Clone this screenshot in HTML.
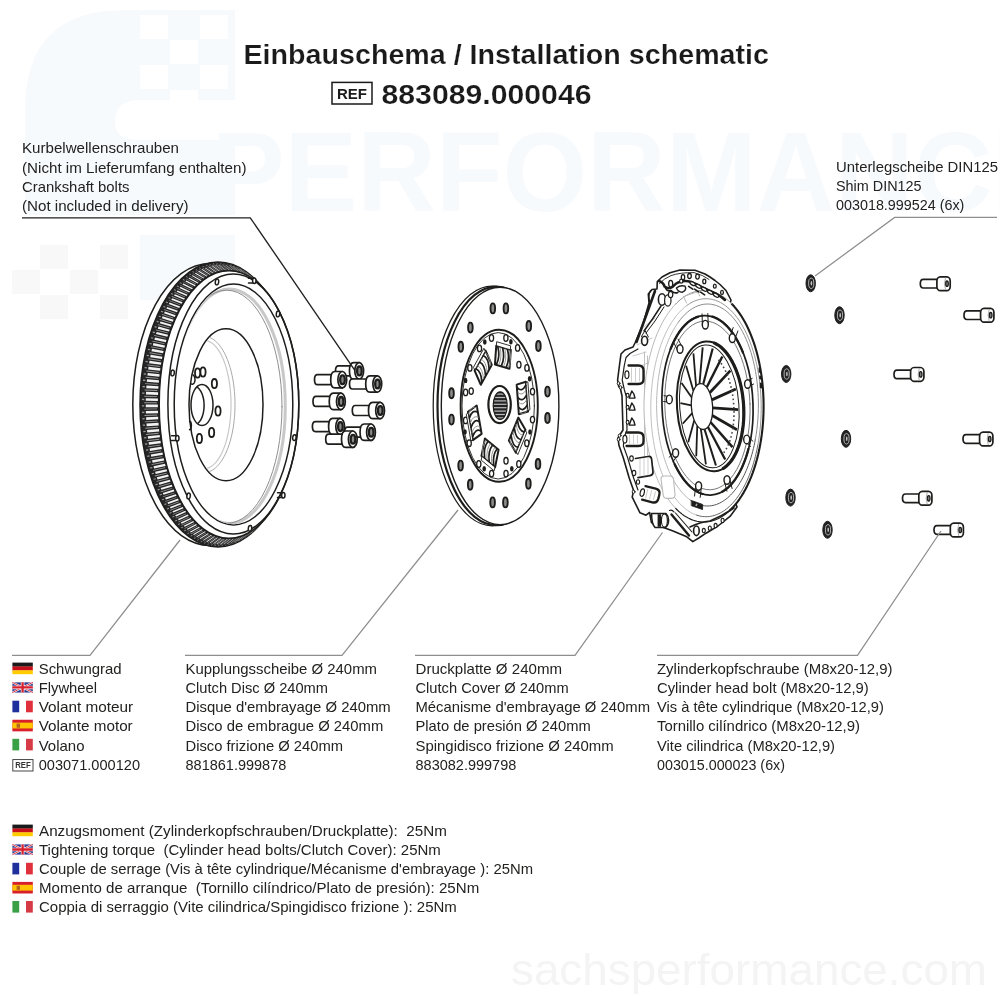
<!DOCTYPE html>
<html><head><meta charset="utf-8"><title>Einbauschema</title>
<style>
html,body{margin:0;padding:0;background:#fff;}
body{width:1000px;height:1000px;overflow:hidden;font-family:"Liberation Sans",sans-serif;}
svg{display:block;position:absolute;left:0;top:0;transform:translateZ(0);will-change:transform;filter:blur(0.4px);}
text{font-family:"Liberation Sans",sans-serif;}
</style></head><body>
<svg width="1000" height="1000" viewBox="0 0 1000 1000">
<g id="wm" opacity="0.999"><path d="M25,215V110Q25,10 125,10H235V100H140Q115,100 115,122Q115,140 140,140H235V215Z" fill="#f7fafd"/><rect x="140" y="15" width="28" height="24" fill="#fff"/><rect x="200" y="15" width="28" height="24" fill="#fff"/><rect x="170" y="40" width="28" height="24" fill="#fff"/><rect x="140" y="65" width="28" height="24" fill="#fff"/><rect x="200" y="65" width="28" height="24" fill="#fff"/><rect x="170" y="90" width="28" height="24" fill="#fff"/><path d="M140,235H235V300H140Z" fill="#f7fafd"/><rect x="12" y="270" width="28" height="24" fill="#f8f8f9"/><rect x="70" y="270" width="28" height="24" fill="#f8f8f9"/><rect x="40" y="245" width="28" height="24" fill="#f8f8f9"/><rect x="100" y="245" width="28" height="24" fill="#f8f8f9"/><rect x="40" y="295" width="28" height="24" fill="#f8f8f9"/><rect x="100" y="295" width="28" height="24" fill="#f8f8f9"/><text x="212" y="211" font-size="114" font-weight="bold" fill="#f7fafd" textLength="853" lengthAdjust="spacingAndGlyphs">PERFORMANCE</text><text x="511" y="985" font-size="44" fill="#f4f4f5" textLength="476" lengthAdjust="spacingAndGlyphs">sachsperformance.com</text></g>
<g id="texts" opacity="0.999"><text x="243.5" y="64.2" font-size="27.2" font-weight="bold" fill="#1a1a1a" stroke="#fff" stroke-width="0.2" textLength="525.5" lengthAdjust="spacingAndGlyphs">Einbauschema / Installation schematic</text><rect x="332" y="82.4" width="40" height="21.6" fill="#fff" stroke="#1a1a1a" stroke-width="1.5"/><text x="337.00" y="98.78" font-size="15.5" font-weight="bold" fill="#1a1a1a" textLength="30" lengthAdjust="spacingAndGlyphs">REF</text><text x="381.5" y="103.6" font-size="27.2" font-weight="bold" fill="#1a1a1a" stroke="#fff" stroke-width="0.2" textLength="210.0" lengthAdjust="spacingAndGlyphs">883089.000046</text><text x="22" y="153.4" font-size="14.6" font-weight="normal" fill="#222221" textLength="157.0" lengthAdjust="spacingAndGlyphs">Kurbelwellenschrauben</text><text x="22" y="172.55" font-size="14.6" font-weight="normal" fill="#222221" textLength="224.5" lengthAdjust="spacingAndGlyphs">(Nicht im Lieferumfang enthalten)</text><text x="22" y="191.7" font-size="14.6" font-weight="normal" fill="#222221" textLength="107.5" lengthAdjust="spacingAndGlyphs">Crankshaft bolts</text><text x="22" y="210.85" font-size="14.6" font-weight="normal" fill="#222221" textLength="166.5" lengthAdjust="spacingAndGlyphs">(Not included in delivery)</text><text x="836" y="171.6" font-size="14.6" font-weight="normal" fill="#222221" textLength="162.0" lengthAdjust="spacingAndGlyphs">Unterlegscheibe DIN125</text><text x="836" y="190.79999999999998" font-size="14.6" font-weight="normal" fill="#222221" textLength="85.6" lengthAdjust="spacingAndGlyphs">Shim DIN125</text><text x="836" y="210.0" font-size="14.6" font-weight="normal" fill="#222221" textLength="128.4" lengthAdjust="spacingAndGlyphs">003018.999524 (6x)</text><text x="38.7" y="674.3" font-size="14.6" font-weight="normal" fill="#222221" textLength="83.0" lengthAdjust="spacingAndGlyphs">Schwungrad</text><text x="38.7" y="693.3499999999999" font-size="14.6" font-weight="normal" fill="#222221" textLength="58.3" lengthAdjust="spacingAndGlyphs">Flywheel</text><text x="38.7" y="712.4" font-size="14.6" font-weight="normal" fill="#222221" textLength="94.5" lengthAdjust="spacingAndGlyphs">Volant moteur</text><text x="38.7" y="731.4499999999999" font-size="14.6" font-weight="normal" fill="#222221" textLength="94.0" lengthAdjust="spacingAndGlyphs">Volante motor</text><text x="38.7" y="750.5" font-size="14.6" font-weight="normal" fill="#222221" textLength="45.8" lengthAdjust="spacingAndGlyphs">Volano</text><text x="38.7" y="769.55" font-size="14.6" font-weight="normal" fill="#222221" textLength="101.3" lengthAdjust="spacingAndGlyphs">003071.000120</text><text x="185.5" y="674.3" font-size="14.6" font-weight="normal" fill="#222221" textLength="191.5" lengthAdjust="spacingAndGlyphs">Kupplungsscheibe Ø 240mm</text><text x="185.5" y="693.3499999999999" font-size="14.6" font-weight="normal" fill="#222221" textLength="142.5" lengthAdjust="spacingAndGlyphs">Clutch Disc Ø 240mm</text><text x="185.5" y="712.4" font-size="14.6" font-weight="normal" fill="#222221" textLength="205.2" lengthAdjust="spacingAndGlyphs">Disque d'embrayage Ø 240mm</text><text x="185.5" y="731.4499999999999" font-size="14.6" font-weight="normal" fill="#222221" textLength="197.8" lengthAdjust="spacingAndGlyphs">Disco de embrague Ø 240mm</text><text x="185.5" y="750.5" font-size="14.6" font-weight="normal" fill="#222221" textLength="157.5" lengthAdjust="spacingAndGlyphs">Disco frizione Ø 240mm</text><text x="185.5" y="769.55" font-size="14.6" font-weight="normal" fill="#222221" textLength="100.8" lengthAdjust="spacingAndGlyphs">881861.999878</text><text x="415.5" y="674.3" font-size="14.6" font-weight="normal" fill="#222221" textLength="146.5" lengthAdjust="spacingAndGlyphs">Druckplatte Ø 240mm</text><text x="415.5" y="693.3499999999999" font-size="14.6" font-weight="normal" fill="#222221" textLength="153.2" lengthAdjust="spacingAndGlyphs">Clutch Cover Ø 240mm</text><text x="415.5" y="712.4" font-size="14.6" font-weight="normal" fill="#222221" textLength="234.5" lengthAdjust="spacingAndGlyphs">Mécanisme d'embrayage Ø 240mm</text><text x="415.5" y="731.4499999999999" font-size="14.6" font-weight="normal" fill="#222221" textLength="175.2" lengthAdjust="spacingAndGlyphs">Plato de presión Ø 240mm</text><text x="415.5" y="750.5" font-size="14.6" font-weight="normal" fill="#222221" textLength="198.2" lengthAdjust="spacingAndGlyphs">Spingidisco frizione Ø 240mm</text><text x="415.5" y="769.55" font-size="14.6" font-weight="normal" fill="#222221" textLength="100.8" lengthAdjust="spacingAndGlyphs">883082.999798</text><text x="657" y="674.3" font-size="14.6" font-weight="normal" fill="#222221" textLength="235.5" lengthAdjust="spacingAndGlyphs">Zylinderkopfschraube (M8x20-12,9)</text><text x="657" y="693.3499999999999" font-size="14.6" font-weight="normal" fill="#222221" textLength="211.8" lengthAdjust="spacingAndGlyphs">Cylinder head bolt (M8x20-12,9)</text><text x="657" y="712.4" font-size="14.6" font-weight="normal" fill="#222221" textLength="226.8" lengthAdjust="spacingAndGlyphs">Vis à tête cylindrique (M8x20-12,9)</text><text x="657" y="731.4499999999999" font-size="14.6" font-weight="normal" fill="#222221" textLength="203.0" lengthAdjust="spacingAndGlyphs">Tornillo cilíndrico (M8x20-12,9)</text><text x="657" y="750.5" font-size="14.6" font-weight="normal" fill="#222221" textLength="178.0" lengthAdjust="spacingAndGlyphs">Vite cilindrica (M8x20-12,9)</text><text x="657" y="769.55" font-size="14.6" font-weight="normal" fill="#222221" textLength="128.0" lengthAdjust="spacingAndGlyphs">003015.000023 (6x)</text><rect x="12.4" y="662.6" width="20.4" height="4.07" fill="#1a1a1a"/><rect x="12.4" y="666.47" width="20.4" height="4.07" fill="#c8101c"/><rect x="12.4" y="670.33" width="20.4" height="3.87" fill="#ffcc00"/><g><rect x="12.4" y="682.35" width="20.4" height="10.2" fill="#2a3b8f"/><path d="M12.4,682.35L32.8,692.5500000000001M32.8,682.35L12.4,692.5500000000001" stroke="#fff" stroke-width="2.0"/><path d="M12.4,682.35L32.8,692.5500000000001M32.8,682.35L12.4,692.5500000000001" stroke="#d8202f" stroke-width="0.9"/><path d="M22.6,682.35V692.5500000000001M12.4,687.45H32.8" stroke="#fff" stroke-width="3.6"/><path d="M22.6,682.35V692.5500000000001M12.4,687.45H32.8" stroke="#d8202f" stroke-width="2.3"/></g><rect x="12.4" y="700.7" width="6.80" height="11.6" fill="#1f2f9c"/><rect x="26.00" y="700.7" width="6.80" height="11.6" fill="#e0303c"/><rect x="12.4" y="719.75" width="20.4" height="11.6" fill="#d8202a"/><rect x="12.4" y="722.65" width="20.4" height="5.80" fill="#ffc400"/><rect x="16.6" y="723.58" width="3.4" height="4.18" fill="#b5651d"/><rect x="12.4" y="738.8000000000001" width="6.80" height="11.6" fill="#3aa045"/><rect x="26.00" y="738.8000000000001" width="6.80" height="11.6" fill="#d63a44"/><rect x="12.8" y="759.6" width="20.2" height="11.4" fill="#fff" stroke="#333" stroke-width="0.9"/><text x="15.15" y="768.40" font-size="8.6" font-weight="bold" fill="#333" textLength="15.5" lengthAdjust="spacingAndGlyphs">REF</text><text x="39" y="836.00" font-size="14.6" fill="#222221" textLength="407.8" lengthAdjust="spacingAndGlyphs" xml:space="preserve">Anzugsmoment (Zylinderkopfschrauben/Druckplatte):  25Nm</text><rect x="12.4" y="824.6" width="20.4" height="4.07" fill="#1a1a1a"/><rect x="12.4" y="828.47" width="20.4" height="4.07" fill="#c8101c"/><rect x="12.4" y="832.33" width="20.4" height="3.87" fill="#ffcc00"/><text x="39" y="855.10" font-size="14.6" fill="#222221" textLength="401.8" lengthAdjust="spacingAndGlyphs" xml:space="preserve">Tightening torque  (Cylinder head bolts/Clutch Cover): 25Nm</text><g><rect x="12.4" y="844.4000000000001" width="20.4" height="10.2" fill="#2a3b8f"/><path d="M12.4,844.4000000000001L32.8,854.6000000000001M32.8,844.4000000000001L12.4,854.6000000000001" stroke="#fff" stroke-width="2.0"/><path d="M12.4,844.4000000000001L32.8,854.6000000000001M32.8,844.4000000000001L12.4,854.6000000000001" stroke="#d8202f" stroke-width="0.9"/><path d="M22.6,844.4000000000001V854.6000000000001M12.4,849.5000000000001H32.8" stroke="#fff" stroke-width="3.6"/><path d="M22.6,844.4000000000001V854.6000000000001M12.4,849.5000000000001H32.8" stroke="#d8202f" stroke-width="2.3"/></g><text x="39" y="874.20" font-size="14.6" fill="#222221" textLength="494.0" lengthAdjust="spacingAndGlyphs" xml:space="preserve">Couple de serrage (Vis à tête cylindrique/Mécanisme d'embrayage ): 25Nm</text><rect x="12.4" y="862.8000000000001" width="6.80" height="11.6" fill="#1f2f9c"/><rect x="26.00" y="862.8000000000001" width="6.80" height="11.6" fill="#e0303c"/><text x="39" y="893.30" font-size="14.6" fill="#222221" textLength="440.2" lengthAdjust="spacingAndGlyphs" xml:space="preserve">Momento de arranque  (Tornillo cilíndrico/Plato de presión): 25Nm</text><rect x="12.4" y="881.9" width="20.4" height="11.6" fill="#d8202a"/><rect x="12.4" y="884.80" width="20.4" height="5.80" fill="#ffc400"/><rect x="16.6" y="885.73" width="3.4" height="4.18" fill="#b5651d"/><text x="39" y="912.40" font-size="14.6" fill="#222221" textLength="417.8" lengthAdjust="spacingAndGlyphs" xml:space="preserve">Coppia di serraggio (Vite cilindrica/Spingidisco frizione ): 25Nm</text><rect x="12.4" y="901.0" width="6.80" height="11.6" fill="#3aa045"/><rect x="26.00" y="901.0" width="6.80" height="11.6" fill="#d63a44"/></g>
<g id="flywheel" stroke-linecap="round" stroke-linejoin="round"><ellipse cx="209.8" cy="404.5" rx="77" ry="141" fill="#fff" stroke="#1d1d1b" stroke-width="1.5"/><ellipse cx="218" cy="404.5" rx="78" ry="142.5" fill="#262626" stroke="#1d1d1b" stroke-width="1.5"/><path d="M259.57,283.89L259.15,283.43L263.66,288.37L264.05,288.81ZM260.34,284.78L259.74,284.10L260.54,284.98L261.13,285.66ZM256.55,280.72L256.12,280.30L260.85,285.37L261.24,285.78ZM257.33,281.46L256.71,280.83L257.55,281.74L258.16,282.37ZM253.46,277.82L253.02,277.43L257.97,282.62L258.37,282.99ZM254.23,278.40L253.61,277.81L254.49,278.75L255.11,279.33ZM250.30,275.17L249.85,274.83L255.02,280.12L255.44,280.46ZM251.07,275.59L250.43,275.06L251.35,276.02L251.98,276.54ZM247.08,272.80L246.62,272.49L252.02,277.88L252.45,278.18ZM247.84,273.06L247.19,272.58L248.15,273.55L248.79,274.02ZM243.80,270.70L243.34,270.42L248.97,275.90L249.40,276.16ZM244.55,270.79L243.88,270.37L244.89,271.36L245.55,271.78ZM240.48,268.87L240.01,268.64L245.88,274.19L246.31,274.41ZM241.21,268.80L240.53,268.44L241.58,269.44L242.24,269.80ZM237.11,267.33L236.64,267.13L242.74,272.75L243.19,272.93ZM237.82,267.10L237.14,266.79L238.23,267.81L238.90,268.11ZM233.71,266.07L233.23,265.92L239.58,271.58L240.03,271.72ZM234.39,265.68L233.70,265.43L234.84,266.45L235.52,266.70ZM230.28,265.10L229.80,264.98L236.39,270.68L236.84,270.79ZM230.93,264.54L230.24,264.35L231.41,265.39L232.10,265.58ZM226.83,264.41L226.35,264.34L233.19,270.06L233.64,270.13ZM227.45,263.70L226.75,263.57L227.97,264.61L228.66,264.74ZM223.37,264.02L222.88,263.99L229.97,269.73L230.42,269.76ZM223.95,263.15L223.25,263.07L224.51,264.12L225.21,264.19ZM219.90,263.92L219.42,263.93L226.75,269.67L227.20,269.66ZM220.44,262.89L219.73,262.87L221.05,263.92L221.74,263.94ZM216.43,264.11L215.95,264.16L223.53,269.89L223.98,269.84ZM216.92,262.93L216.22,262.97L217.58,264.01L218.27,263.97ZM212.97,264.59L212.49,264.68L220.31,270.39L220.76,270.30ZM213.41,263.25L212.71,263.36L214.11,264.40L214.81,264.30ZM209.53,265.36L209.05,265.49L217.12,271.17L217.56,271.04ZM209.92,263.88L209.22,264.04L210.66,265.07L211.35,264.91ZM206.11,266.42L205.63,266.59L213.94,272.22L214.39,272.06ZM206.44,264.79L205.75,265.01L207.24,266.03L207.92,265.82ZM202.72,267.76L202.25,267.97L210.80,273.55L211.24,273.35ZM202.99,265.99L202.30,266.27L203.83,267.29L204.51,267.01ZM199.36,269.39L198.90,269.64L207.69,275.15L208.12,274.91ZM199.57,267.48L198.89,267.81L200.47,268.82L201.14,268.49ZM196.05,271.30L195.59,271.59L204.62,277.02L205.04,276.74ZM196.19,269.25L195.52,269.64L197.14,270.64L197.80,270.25ZM192.79,273.48L192.34,273.81L201.59,279.15L202.01,278.83ZM192.86,271.31L192.20,271.75L193.86,272.73L194.51,272.29ZM189.59,275.94L189.14,276.30L198.63,281.54L199.04,281.19ZM189.58,273.64L188.93,274.14L190.64,275.10L191.28,274.60ZM186.45,278.66L186.01,279.06L195.72,284.19L196.12,283.80ZM186.37,276.24L185.73,276.79L187.48,277.73L188.10,277.18ZM183.38,281.64L182.96,282.08L192.88,287.08L193.27,286.66ZM183.22,279.11L182.60,279.71L184.38,280.63L185.00,280.03ZM180.39,284.88L179.97,285.35L190.11,290.22L190.49,289.77ZM180.15,282.23L179.54,282.89L181.37,283.78L181.96,283.13ZM177.48,288.37L177.08,288.87L187.42,293.60L187.79,293.11ZM177.15,285.61L176.57,286.32L178.43,287.19L179.01,286.49ZM174.66,292.09L174.27,292.63L184.81,297.20L185.17,296.68ZM174.25,289.24L173.68,289.99L175.58,290.84L176.14,290.09ZM171.93,296.05L171.56,296.63L182.29,301.03L182.64,300.48ZM171.44,293.10L170.89,293.91L172.82,294.72L173.36,293.93ZM169.31,300.24L168.95,300.84L179.86,305.07L180.20,304.50ZM168.72,297.20L168.19,298.05L170.16,298.83L170.69,297.99ZM166.79,304.64L166.44,305.27L177.54,309.32L177.86,308.72ZM166.11,301.52L165.61,302.41L167.61,303.16L168.11,302.28ZM164.38,309.24L164.05,309.91L175.32,313.77L175.62,313.14ZM163.61,306.05L163.13,306.98L165.16,307.70L165.64,306.78ZM162.09,314.05L161.78,314.74L173.20,318.40L173.49,317.74ZM161.23,310.79L160.77,311.76L162.83,312.44L163.29,311.48ZM159.92,319.04L159.62,319.76L171.20,323.22L171.47,322.53ZM158.97,315.72L158.53,316.73L160.62,317.37L161.05,316.37ZM157.87,324.21L157.60,324.95L169.32,328.20L169.57,327.49ZM156.83,320.83L156.41,321.88L158.53,322.49L158.94,321.45ZM155.96,329.55L155.70,330.31L167.56,333.34L167.80,332.61ZM154.82,326.12L154.43,327.20L156.57,327.77L156.96,326.70ZM154.17,335.04L153.94,335.82L165.92,338.62L166.14,337.88ZM152.94,331.57L152.58,332.68L154.75,333.21L155.10,332.11ZM152.53,340.67L152.31,341.47L164.41,344.05L164.61,343.28ZM151.20,337.17L150.87,338.31L153.06,338.80L153.38,337.67ZM151.03,346.44L150.83,347.26L163.03,349.60L163.21,348.81ZM149.60,342.91L149.30,344.08L151.51,344.52L151.80,343.37ZM149.66,352.33L149.49,353.16L161.78,355.26L161.95,354.46ZM148.14,348.78L147.87,349.97L150.10,350.37L150.37,349.19ZM148.45,358.32L148.29,359.17L160.68,361.02L160.82,360.21ZM146.83,354.77L146.59,355.98L148.84,356.33L149.08,355.13ZM147.39,364.42L147.25,365.28L159.71,366.88L159.83,366.05ZM145.68,360.85L145.46,362.08L147.72,362.40L147.93,361.18ZM146.47,370.59L146.36,371.46L158.88,372.81L158.99,371.98ZM144.67,367.03L144.49,368.28L146.76,368.54L146.94,367.31ZM145.71,376.84L145.62,377.71L158.19,378.81L158.28,377.97ZM143.82,373.29L143.67,374.55L145.95,374.77L146.10,373.52ZM145.11,383.14L145.04,384.02L157.65,384.86L157.72,384.01ZM143.12,379.61L143.00,380.88L145.29,381.05L145.41,379.79ZM144.66,389.48L144.61,390.38L157.25,390.95L157.30,390.10ZM142.58,385.98L142.49,387.26L144.79,387.39L144.88,386.12ZM144.37,395.86L144.34,396.76L157.00,397.07L157.03,396.21ZM142.20,392.39L142.15,393.67L144.45,393.75L144.50,392.48ZM144.23,402.26L144.23,403.15L156.90,403.21L156.91,402.35ZM141.98,398.82L141.96,400.11L144.26,400.15L144.29,398.87ZM144.26,408.66L144.27,409.55L156.94,409.35L156.93,408.49ZM141.92,405.27L141.93,406.56L144.23,406.55L144.23,405.27ZM144.44,415.05L144.48,415.94L157.13,415.48L157.10,414.62ZM142.02,411.72L142.06,413.00L144.36,412.94L144.32,411.66ZM144.78,421.42L144.84,422.31L157.47,421.58L157.41,420.73ZM142.28,418.15L142.35,419.43L144.65,419.32L144.58,418.05ZM145.27,427.75L145.36,428.64L157.95,427.65L157.87,426.80ZM142.70,424.55L142.80,425.83L145.09,425.67L144.99,424.40ZM145.93,434.04L146.03,434.92L158.57,433.67L158.48,432.83ZM143.27,430.91L143.41,432.18L145.69,431.97L145.56,430.72ZM146.73,440.27L146.86,441.13L159.34,439.64L159.22,438.80ZM144.01,437.22L144.17,438.47L146.45,438.22L146.28,436.97ZM147.69,446.42L147.84,447.27L160.25,445.52L160.12,444.70ZM144.90,443.45L145.09,444.69L147.36,444.40L147.16,443.17ZM148.80,452.48L148.97,453.32L161.30,451.33L161.15,450.52ZM145.94,449.61L146.17,450.83L148.42,450.49L148.19,449.28ZM150.06,458.45L150.24,459.27L162.49,457.03L162.31,456.24ZM147.13,455.67L147.39,456.88L149.63,456.49L149.37,455.30ZM151.46,464.30L151.67,465.11L163.81,462.63L163.62,461.86ZM148.48,461.63L148.76,462.81L150.98,462.38L150.70,461.21ZM153.01,470.03L153.23,470.82L165.27,468.11L165.06,467.35ZM149.97,467.47L150.28,468.62L152.48,468.15L152.17,467.01ZM154.69,475.62L154.94,476.39L166.85,473.46L166.62,472.72ZM151.60,473.18L151.95,474.31L154.12,473.79L153.78,472.67ZM156.52,481.07L156.78,481.82L168.56,478.66L168.31,477.94ZM153.38,478.75L153.75,479.84L155.90,479.29L155.53,478.20ZM158.47,486.35L158.76,487.08L170.39,483.71L170.13,483.01ZM155.28,484.16L155.68,485.22L157.81,484.63L157.42,483.57ZM160.55,491.47L160.86,492.17L172.35,488.59L172.07,487.92ZM157.33,489.41L157.75,490.44L159.85,489.80L159.43,488.78ZM162.76,496.41L163.08,497.08L174.41,493.30L174.12,492.65ZM159.50,494.48L159.95,495.47L162.02,494.80L161.58,493.81ZM165.09,501.16L165.42,501.80L176.59,497.83L176.28,497.21ZM161.79,499.36L162.26,500.32L164.31,499.61L163.84,498.66ZM167.53,505.70L167.88,506.32L178.87,502.16L178.55,501.57ZM164.20,504.05L164.70,504.96L166.71,504.22L166.22,503.32ZM170.08,510.04L170.45,510.63L181.26,506.29L180.92,505.73ZM166.73,508.53L167.25,509.40L169.23,508.63L168.72,507.77ZM172.74,514.16L173.12,514.71L183.74,510.21L183.38,509.68ZM169.36,512.80L169.90,513.63L171.85,512.82L171.32,512.00ZM175.49,518.05L175.89,518.57L186.31,513.91L185.94,513.41ZM172.10,516.84L172.66,517.62L174.57,516.79L174.02,516.01ZM178.34,521.70L178.75,522.19L188.97,517.39L188.59,516.92ZM174.94,520.65L175.51,521.38L177.39,520.52L176.82,519.79ZM181.27,525.11L181.69,525.57L191.70,520.63L191.31,520.19ZM177.86,524.22L178.46,524.90L180.30,524.02L179.71,523.34ZM184.29,528.28L184.72,528.70L194.51,523.63L194.12,523.22ZM180.87,527.54L181.49,528.17L183.29,527.26L182.68,526.63ZM187.38,531.18L187.82,531.57L197.39,526.38L196.99,526.01ZM183.97,530.60L184.59,531.19L186.35,530.25L185.73,529.67ZM190.54,533.83L190.99,534.17L200.34,528.88L199.92,528.54ZM187.13,533.41L187.77,533.94L189.49,532.98L188.86,532.46ZM193.76,536.20L194.22,536.51L203.34,531.12L202.91,530.82ZM190.36,535.94L191.01,536.42L192.69,535.45L192.05,534.98ZM197.04,538.30L197.50,538.58L206.39,533.10L205.96,532.84ZM193.65,538.21L194.32,538.63L195.95,537.64L195.29,537.22ZM200.36,540.13L200.83,540.36L209.48,534.81L209.05,534.59ZM196.99,540.20L197.67,540.56L199.26,539.56L198.60,539.20ZM203.73,541.67L204.20,541.87L212.62,536.25L212.17,536.07ZM200.38,541.90L201.06,542.21L202.61,541.19L201.94,540.89ZM207.13,542.93L207.61,543.08L215.78,537.42L215.33,537.28ZM203.81,543.32L204.50,543.57L206.00,542.55L205.32,542.30ZM210.56,543.90L211.04,544.02L218.97,538.32L218.52,538.21ZM207.27,544.46L207.96,544.65L209.43,543.61L208.74,543.42ZM214.01,544.59L214.49,544.66L222.17,538.94L221.72,538.87ZM210.75,545.30L211.45,545.43L212.87,544.39L212.18,544.26ZM217.47,544.98L217.96,545.01L225.39,539.27L224.94,539.24ZM214.25,545.85L214.95,545.93L216.33,544.88L215.63,544.81ZM220.94,545.08L221.42,545.07L228.61,539.33L228.16,539.34ZM217.76,546.11L218.47,546.13L219.79,545.08L219.10,545.06ZM224.41,544.89L224.89,544.84L231.83,539.11L231.38,539.16ZM221.28,546.07L221.98,546.03L223.26,544.99L222.57,545.03ZM227.87,544.41L228.35,544.32L235.05,538.61L234.60,538.70ZM224.79,545.75L225.49,545.64L226.73,544.60L226.03,544.70ZM231.31,543.64L231.79,543.51L238.24,537.83L237.80,537.96ZM228.28,545.12L228.98,544.96L230.18,543.93L229.49,544.09ZM234.73,542.58L235.21,542.41L241.42,536.78L240.97,536.94ZM231.76,544.21L232.45,543.99L233.60,542.97L232.92,543.18ZM238.12,541.24L238.59,541.03L244.56,535.45L244.12,535.65ZM235.21,543.01L235.90,542.73L237.01,541.71L236.33,541.99ZM241.48,539.61L241.94,539.36L247.67,533.85L247.24,534.09ZM238.63,541.52L239.31,541.19L240.37,540.18L239.70,540.51ZM244.79,537.70L245.25,537.41L250.74,531.98L250.32,532.26ZM242.01,539.75L242.68,539.36L243.70,538.36L243.04,538.75ZM248.05,535.52L248.50,535.19L253.77,529.85L253.35,530.17ZM245.34,537.69L246.00,537.25L246.98,536.27L246.33,536.71ZM251.25,533.06L251.70,532.70L256.73,527.46L256.32,527.81ZM248.62,535.36L249.27,534.86L250.20,533.90L249.56,534.40ZM254.39,530.34L254.83,529.94L259.64,524.81L259.24,525.20ZM251.83,532.76L252.47,532.21L253.36,531.27L252.74,531.82ZM257.46,527.36L257.88,526.92L262.48,521.92L262.09,522.34ZM254.98,529.89L255.60,529.29L256.46,528.37L255.84,528.97ZM260.45,524.12L260.87,523.65L265.25,518.78L264.87,519.23ZM258.05,526.77L258.66,526.11L259.47,525.22L258.88,525.87ZM263.36,520.63L263.76,520.13L267.94,515.40L267.57,515.89ZM261.05,523.39L261.63,522.68L262.41,521.81L261.83,522.51Z" fill="#9c9c9c" stroke="none"/><path d="M261.84,286.47L260.89,285.37L265.12,290.03L266.00,291.09ZM258.89,283.16L257.94,282.16L262.36,286.96L263.25,287.91ZM255.86,280.11L254.90,279.21L259.54,284.12L260.42,284.98ZM252.75,277.31L251.80,276.52L256.65,281.54L257.53,282.29ZM249.58,274.78L248.64,274.09L253.70,279.20L254.57,279.86ZM246.35,272.52L245.42,271.93L250.70,277.13L251.56,277.69ZM243.06,270.54L242.15,270.04L247.65,275.31L248.50,275.79ZM239.73,268.84L238.84,268.43L244.57,273.76L245.40,274.15ZM236.36,267.42L235.49,267.10L241.45,272.48L242.26,272.79ZM232.97,266.29L232.12,266.05L238.31,271.48L239.10,271.70ZM229.54,265.44L228.72,265.29L235.14,270.74L235.91,270.89ZM226.10,264.89L225.30,264.81L231.96,270.28L232.70,270.36ZM222.65,264.63L221.88,264.61L228.77,270.09L229.48,270.11ZM219.21,264.66L218.44,264.71L225.56,270.19L226.29,270.14ZM215.80,264.98L214.99,265.10L222.35,270.56L223.10,270.45ZM212.39,265.59L211.55,265.78L219.15,271.21L219.93,271.03ZM209.00,266.48L208.14,266.75L215.97,272.15L216.77,271.89ZM205.63,267.65L204.75,268.01L212.81,273.36L213.64,273.01ZM202.30,269.11L201.40,269.55L209.69,274.84L210.53,274.41ZM199.01,270.84L198.09,271.38L206.61,276.59L207.46,276.08ZM195.76,272.85L194.83,273.48L203.57,278.62L204.44,278.01ZM192.56,275.13L191.62,275.86L200.58,280.90L201.46,280.20ZM189.43,277.67L188.48,278.51L197.65,283.44L198.54,282.64ZM186.36,280.48L185.40,281.42L194.79,286.24L195.68,285.34ZM183.36,283.54L182.40,284.58L191.99,289.28L192.88,288.28ZM180.43,286.85L179.48,288.00L189.27,292.56L190.16,291.46ZM177.59,290.40L176.65,291.66L186.64,296.08L187.51,294.87ZM174.84,294.19L173.92,295.55L184.09,299.82L184.95,298.51ZM172.19,298.21L171.28,299.67L181.63,303.78L182.48,302.37ZM169.64,302.44L168.75,304.01L179.27,307.95L180.10,306.44ZM167.19,306.89L166.32,308.56L177.01,312.32L177.82,310.71ZM164.85,311.53L164.02,313.31L174.86,316.88L175.64,315.18ZM162.63,316.37L161.83,318.25L172.82,321.63L173.58,319.83ZM160.54,321.39L159.76,323.36L170.90,326.54L171.62,324.65ZM158.56,326.59L157.83,328.65L169.10,331.62L169.78,329.64ZM156.71,331.94L156.03,334.09L167.42,336.85L168.06,334.79ZM155.00,337.45L154.36,339.68L165.87,342.22L166.47,340.08ZM153.43,343.10L152.83,345.40L164.45,347.71L165.00,345.50ZM151.99,348.87L151.45,351.24L163.16,353.33L163.66,351.05ZM150.70,354.76L150.21,357.19L162.00,359.05L162.45,356.71ZM149.55,360.75L149.12,363.24L160.99,364.86L161.39,362.47ZM148.55,366.84L148.18,369.38L160.11,370.75L160.45,368.31ZM147.70,373.00L147.39,375.59L159.38,376.72L159.66,374.24ZM147.00,379.23L146.76,381.85L158.78,382.74L159.01,380.22ZM146.46,385.52L146.28,388.16L158.34,388.80L158.51,386.26ZM146.07,391.84L145.95,394.50L158.04,394.90L158.14,392.34ZM145.84,398.19L145.79,400.87L157.88,401.01L157.93,398.44ZM145.76,404.56L145.77,407.24L157.87,407.13L157.86,404.56ZM145.84,410.93L145.92,413.60L158.01,413.24L157.93,410.68ZM146.08,417.29L146.22,419.94L158.29,419.34L158.15,416.78ZM146.47,423.62L146.68,426.25L158.71,425.40L158.52,422.87ZM147.02,429.91L147.29,432.51L159.28,431.41L159.03,428.91ZM147.72,436.15L148.05,438.71L159.99,437.37L159.68,434.91ZM148.57,442.33L148.97,444.85L160.85,443.26L160.48,440.84ZM149.58,448.42L150.03,450.89L161.84,449.07L161.42,446.70ZM150.74,454.43L151.25,456.84L162.97,454.79L162.49,452.48ZM152.04,460.34L152.60,462.68L164.23,460.40L163.71,458.15ZM153.49,466.13L154.10,468.40L165.63,465.90L165.05,463.72ZM155.07,471.79L155.74,473.99L167.15,471.26L166.53,469.16ZM156.80,477.32L157.51,479.43L168.80,476.49L168.14,474.47ZM158.66,482.69L159.41,484.71L170.57,481.57L169.88,479.63ZM160.65,487.91L161.44,489.83L172.47,486.49L171.73,484.64ZM162.77,492.94L163.60,494.78L174.47,491.24L173.71,489.48ZM165.02,497.80L165.87,499.53L176.59,495.81L175.79,494.14ZM167.37,502.46L168.25,504.09L178.81,500.19L177.99,498.62ZM169.85,506.92L170.75,508.45L181.13,504.37L180.29,502.91ZM172.43,511.16L173.34,512.59L183.55,508.35L182.70,506.99ZM175.11,515.19L176.04,516.50L186.07,512.11L185.20,510.85ZM177.89,518.98L178.83,520.19L188.66,515.65L187.78,514.49ZM180.76,522.53L181.71,523.63L191.34,518.97L190.46,517.91ZM183.71,525.84L184.66,526.84L194.10,522.04L193.21,521.09ZM186.74,528.89L187.70,529.79L196.92,524.88L196.04,524.02ZM189.85,531.69L190.80,532.48L199.81,527.46L198.93,526.71ZM193.02,534.22L193.96,534.91L202.76,529.80L201.89,529.14ZM196.25,536.48L197.18,537.07L205.76,531.87L204.90,531.31ZM199.54,538.46L200.45,538.96L208.81,533.69L207.96,533.21ZM202.87,540.16L203.76,540.57L211.89,535.24L211.06,534.85ZM206.24,541.58L207.11,541.90L215.01,536.52L214.20,536.21ZM209.63,542.71L210.48,542.95L218.15,537.52L217.36,537.30ZM213.06,543.56L213.88,543.71L221.32,538.26L220.55,538.11ZM216.50,544.11L217.30,544.19L224.50,538.72L223.76,538.64ZM219.95,544.37L220.72,544.39L227.69,538.91L226.98,538.89ZM223.39,544.34L224.16,544.29L230.90,538.81L230.17,538.86ZM226.80,544.02L227.61,543.90L234.11,538.44L233.36,538.55ZM230.21,543.41L231.05,543.22L237.31,537.79L236.53,537.97ZM233.60,542.52L234.46,542.25L240.49,536.85L239.69,537.11ZM236.97,541.35L237.85,540.99L243.65,535.64L242.82,535.99ZM240.30,539.89L241.20,539.45L246.77,534.16L245.93,534.59ZM243.59,538.16L244.51,537.62L249.85,532.41L249.00,532.92ZM246.84,536.15L247.77,535.52L252.89,530.38L252.02,530.99ZM250.04,533.87L250.98,533.14L255.88,528.10L255.00,528.80ZM253.17,531.33L254.12,530.49L258.81,525.56L257.92,526.36ZM256.24,528.52L257.20,527.58L261.67,522.76L260.78,523.66ZM259.24,525.46L260.20,524.42L264.47,519.72L263.58,520.72ZM262.17,522.15L263.12,521.00L267.19,516.44L266.30,517.54Z" fill="#f2f2f2" stroke="none"/><ellipse cx="229" cy="404.5" rx="69.8" ry="133.8" fill="#fff" stroke="#1d1d1b" stroke-width="1.5"/><ellipse cx="233.35" cy="404" rx="65.45" ry="130" fill="none" stroke="#1d1d1b" stroke-width="1.5"/><ellipse cx="233.5" cy="404.5" rx="59.3" ry="120.5" fill="#fff" stroke="#1d1d1b" stroke-width="1.5"/><clipPath id="clipE"><ellipse cx="234" cy="404.5" rx="58.4" ry="119.9"/></clipPath><g clip-path="url(#clipE)" fill="none"><ellipse cx="229.3" cy="406.2" rx="56" ry="117.3" stroke="#c8c8c8" stroke-width="3.0"/><ellipse cx="226.6" cy="406.8" rx="55.4" ry="116.6" stroke="#8e8e8e" stroke-width="1.0"/></g><ellipse cx="226" cy="404.8" rx="37" ry="76" fill="#fff" stroke="#1d1d1b" stroke-width="1.5"/><clipPath id="clipG"><ellipse cx="226" cy="404.8" rx="36.4" ry="75.4"/></clipPath><g clip-path="url(#clipG)" fill="none"><path d="M208.18,472.00L209.63,471.53L211.08,470.90L212.51,470.11L213.92,469.17L215.31,468.08L216.68,466.84L218.02,465.46L219.32,463.93L220.59,462.26L221.83,460.46L223.02,458.53L224.17,456.47L225.27,454.30L226.33,452.00L227.33,449.59L228.28,447.08L229.17,444.47L230.01,441.77L230.79,438.97L231.51,436.10L232.16,433.16L232.75,430.14L233.27,427.07L233.73,423.94L234.11,420.77L234.43,417.56L234.68,414.33L234.86,411.06L234.96,407.79L235.00,404.50L234.96,401.21L234.86,397.94L234.68,394.67L234.43,391.44L234.11,388.23L233.73,385.06L233.27,381.93L232.75,378.86L232.16,375.84L231.51,372.90L230.79,370.03L230.01,367.23L229.17,364.53L228.28,361.92L227.33,359.41L226.33,357.00L225.27,354.70L224.17,352.53L223.02,350.47L221.83,348.54L220.59,346.74L219.32,345.07L218.02,343.54L216.68,342.16L215.31,340.92L213.92,339.83L212.51,338.89L211.08,338.10L209.63,337.47L208.18,337.00" stroke="#a8a8a8" stroke-width="1"/><path d="M207.69,468.03L208.96,467.59L210.22,466.99L211.46,466.25L212.69,465.37L213.90,464.34L215.08,463.18L216.24,461.87L217.38,460.43L218.48,458.87L219.55,457.17L220.59,455.35L221.59,453.42L222.55,451.37L223.46,449.21L224.34,446.94L225.16,444.58L225.94,442.12L226.67,439.57L227.34,436.95L227.96,434.24L228.53,431.47L229.04,428.63L229.50,425.74L229.89,422.80L230.23,419.82L230.51,416.80L230.72,413.75L230.88,410.68L230.97,407.59L231.00,404.50L230.97,401.41L230.88,398.32L230.72,395.25L230.51,392.20L230.23,389.18L229.89,386.20L229.50,383.26L229.04,380.37L228.53,377.53L227.96,374.76L227.34,372.05L226.67,369.43L225.94,366.88L225.16,364.42L224.34,362.06L223.46,359.79L222.55,357.63L221.59,355.58L220.59,353.65L219.55,351.83L218.48,350.13L217.38,348.57L216.24,347.13L215.08,345.82L213.90,344.66L212.69,343.63L211.46,342.75L210.22,342.01L208.96,341.41L207.69,340.97" stroke="#c8c8c8" stroke-width="1.2"/></g><ellipse cx="202" cy="405" rx="11" ry="20.5" fill="#fff" stroke="#1d1d1b" stroke-width="1.5"/><clipPath id="clipBore"><ellipse cx="202" cy="405" rx="11" ry="20.5"/></clipPath><g clip-path="url(#clipBore)"><ellipse cx="193.6" cy="405.5" rx="10.5" ry="19.5" fill="none" stroke="#1d1d1b" stroke-width="1.5"/></g><ellipse cx="203" cy="372" rx="2.6" ry="4.6" fill="#fff" stroke="#1d1d1b" stroke-width="1.8"/><ellipse cx="197.6" cy="373" rx="2.6" ry="4.6" fill="#fff" stroke="#1d1d1b" stroke-width="1.8"/><ellipse cx="214.4" cy="383.6" rx="2.6" ry="4.6" fill="#fff" stroke="#1d1d1b" stroke-width="1.8"/><ellipse cx="218" cy="411" rx="2.6" ry="4.6" fill="#fff" stroke="#1d1d1b" stroke-width="1.8"/><ellipse cx="211.6" cy="432.4" rx="2.6" ry="4.6" fill="#fff" stroke="#1d1d1b" stroke-width="1.8"/><ellipse cx="199.4" cy="438.4" rx="2.6" ry="4.6" fill="#fff" stroke="#1d1d1b" stroke-width="1.8"/><path d="M191.43,383.95L191.85,384.13L192.28,384.20L192.71,384.15L193.13,383.97L193.52,383.69L193.89,383.30L194.22,382.81L194.50,382.23L194.72,381.59L194.88,380.89L194.97,380.16L195.00,379.41L194.96,378.66L194.85,377.93L194.67,377.25L194.43,376.62L194.14,376.06L193.80,375.60L193.43,375.23L193.02,374.97" fill="none" stroke="#1d1d1b" stroke-width="1.5"/><path d="M189.76,429.70L189.98,429.66L190.20,429.52L190.41,429.28L190.60,428.94L190.78,428.51L190.92,428.01L191.04,427.44L191.13,426.82L191.18,426.17L191.20,425.50L191.18,424.83L191.13,424.18L191.04,423.56L190.92,422.99L190.78,422.49L190.60,422.06L190.41,421.72L190.20,421.48L189.98,421.34L189.76,421.30" fill="none" stroke="#1d1d1b" stroke-width="1.8"/><ellipse cx="217" cy="282" rx="1.7" ry="2.9" fill="#fff" stroke="#1d1d1b" stroke-width="1.5" transform="rotate(8 217 282)"/><ellipse cx="278" cy="314" rx="1.7" ry="2.9" fill="#fff" stroke="#1d1d1b" stroke-width="1.5" transform="rotate(8 278 314)"/><ellipse cx="172.6" cy="373" rx="1.7" ry="2.9" fill="#fff" stroke="#1d1d1b" stroke-width="1.5" transform="rotate(8 172.6 373)"/><ellipse cx="294.4" cy="437.6" rx="1.7" ry="2.9" fill="#fff" stroke="#1d1d1b" stroke-width="1.5" transform="rotate(8 294.4 437.6)"/><ellipse cx="188.6" cy="496" rx="1.7" ry="2.9" fill="#fff" stroke="#1d1d1b" stroke-width="1.5" transform="rotate(8 188.6 496)"/><ellipse cx="250" cy="528.4" rx="1.7" ry="2.9" fill="#fff" stroke="#1d1d1b" stroke-width="1.5" transform="rotate(8 250 528.4)"/><path d="M248.5,278.3H254M248.5,283.1H254" stroke="#1d1d1b" stroke-width="1.5" fill="none"/><ellipse cx="254.3" cy="280.7" rx="1.7" ry="2.8" fill="#fff" stroke="#1d1d1b" stroke-width="1.5"/><path d="M171.5,435.8H177M171.5,440.6H177" stroke="#1d1d1b" stroke-width="1.5" fill="none"/><ellipse cx="177.3" cy="438.2" rx="1.7" ry="2.8" fill="#fff" stroke="#1d1d1b" stroke-width="1.5"/><path d="M277.5,492.8H283M277.5,497.6H283" stroke="#1d1d1b" stroke-width="1.5" fill="none"/><ellipse cx="283.3" cy="495.2" rx="1.7" ry="2.8" fill="#fff" stroke="#1d1d1b" stroke-width="1.5"/></g>
<g id="bolts" stroke-linejoin="round"><path d="M352.67,365.90H338.50Q335.50,365.90 335.50,370.90Q335.50,375.90 338.50,375.90H352.67Z" fill="#fff" stroke="#1d1d1b" stroke-width="1.7"/><path d="M359.20,362.70H353.67Q349.47,362.70 349.47,370.90Q349.47,379.10 353.67,379.10H359.20Z" fill="#fff" stroke="#1d1d1b" stroke-width="1.7"/><ellipse cx="359.20" cy="370.90" rx="4.4" ry="8.2" fill="#fff" stroke="#1d1d1b" stroke-width="1.7"/><ellipse cx="359.40" cy="370.90" rx="2.3" ry="4.4" fill="#8a8a8a" stroke="#1d1d1b" stroke-width="2.3"/><path d="M333.89,374.70H317.50Q314.50,374.70 314.50,379.70Q314.50,384.70 317.50,384.70H333.89Z" fill="#fff" stroke="#1d1d1b" stroke-width="1.7"/><path d="M342.30,371.50H334.89Q330.69,371.50 330.69,379.70Q330.69,387.90 334.89,387.90H342.30Z" fill="#fff" stroke="#1d1d1b" stroke-width="1.7"/><ellipse cx="342.30" cy="379.70" rx="4.4" ry="8.2" fill="#fff" stroke="#1d1d1b" stroke-width="1.7"/><ellipse cx="342.50" cy="379.70" rx="2.3" ry="4.4" fill="#8a8a8a" stroke="#1d1d1b" stroke-width="2.3"/><path d="M368.89,379.00H352.50Q349.50,379.00 349.50,384.00Q349.50,389.00 352.50,389.00H368.89Z" fill="#fff" stroke="#1d1d1b" stroke-width="1.7"/><path d="M377.30,375.80H369.89Q365.69,375.80 365.69,384.00Q365.69,392.20 369.89,392.20H377.30Z" fill="#fff" stroke="#1d1d1b" stroke-width="1.7"/><ellipse cx="377.30" cy="384.00" rx="4.4" ry="8.2" fill="#fff" stroke="#1d1d1b" stroke-width="1.7"/><ellipse cx="377.50" cy="384.00" rx="2.3" ry="4.4" fill="#8a8a8a" stroke="#1d1d1b" stroke-width="2.3"/><path d="M332.44,396.40H316.00Q313.00,396.40 313.00,401.40Q313.00,406.40 316.00,406.40H332.44Z" fill="#fff" stroke="#1d1d1b" stroke-width="1.7"/><path d="M340.90,393.20H333.44Q329.24,393.20 329.24,401.40Q329.24,409.60 333.44,409.60H340.90Z" fill="#fff" stroke="#1d1d1b" stroke-width="1.7"/><ellipse cx="340.90" cy="401.40" rx="4.4" ry="8.2" fill="#fff" stroke="#1d1d1b" stroke-width="1.7"/><ellipse cx="341.10" cy="401.40" rx="2.3" ry="4.4" fill="#8a8a8a" stroke="#1d1d1b" stroke-width="2.3"/><path d="M371.69,405.50H355.30Q352.30,405.50 352.30,410.50Q352.30,415.50 355.30,415.50H371.69Z" fill="#fff" stroke="#1d1d1b" stroke-width="1.7"/><path d="M380.10,402.30H372.69Q368.49,402.30 368.49,410.50Q368.49,418.70 372.69,418.70H380.10Z" fill="#fff" stroke="#1d1d1b" stroke-width="1.7"/><ellipse cx="380.10" cy="410.50" rx="4.4" ry="8.2" fill="#fff" stroke="#1d1d1b" stroke-width="1.7"/><ellipse cx="380.30" cy="410.50" rx="2.3" ry="4.4" fill="#8a8a8a" stroke="#1d1d1b" stroke-width="2.3"/><path d="M363.23,427.20H347.60Q344.60,427.20 344.60,432.20Q344.60,437.20 347.60,437.20H363.23Z" fill="#fff" stroke="#1d1d1b" stroke-width="1.7"/><path d="M371.00,424.00H364.23Q360.03,424.00 360.03,432.20Q360.03,440.40 364.23,440.40H371.00Z" fill="#fff" stroke="#1d1d1b" stroke-width="1.7"/><ellipse cx="371.00" cy="432.20" rx="4.4" ry="8.2" fill="#fff" stroke="#1d1d1b" stroke-width="1.7"/><ellipse cx="371.20" cy="432.20" rx="2.3" ry="4.4" fill="#8a8a8a" stroke="#1d1d1b" stroke-width="2.3"/><path d="M331.79,421.60H315.40Q312.40,421.60 312.40,426.60Q312.40,431.60 315.40,431.60H331.79Z" fill="#fff" stroke="#1d1d1b" stroke-width="1.7"/><path d="M340.20,418.40H332.79Q328.59,418.40 328.59,426.60Q328.59,434.80 332.79,434.80H340.20Z" fill="#fff" stroke="#1d1d1b" stroke-width="1.7"/><ellipse cx="340.20" cy="426.60" rx="4.4" ry="8.2" fill="#fff" stroke="#1d1d1b" stroke-width="1.7"/><ellipse cx="340.40" cy="426.60" rx="2.3" ry="4.4" fill="#8a8a8a" stroke="#1d1d1b" stroke-width="2.3"/><path d="M344.71,434.20H328.70Q325.70,434.20 325.70,439.20Q325.70,444.20 328.70,444.20H344.71Z" fill="#fff" stroke="#1d1d1b" stroke-width="1.7"/><path d="M352.80,431.00H345.71Q341.51,431.00 341.51,439.20Q341.51,447.40 345.71,447.40H352.80Z" fill="#fff" stroke="#1d1d1b" stroke-width="1.7"/><ellipse cx="352.80" cy="439.20" rx="4.4" ry="8.2" fill="#fff" stroke="#1d1d1b" stroke-width="1.7"/><ellipse cx="353.00" cy="439.20" rx="2.3" ry="4.4" fill="#8a8a8a" stroke="#1d1d1b" stroke-width="2.3"/><path d="M938.89,279.40H923.30Q920.30,279.40 920.30,283.70Q920.30,288.00 923.30,288.00H938.89Z" fill="#fff" stroke="#1d1d1b" stroke-width="1.7"/><rect x="936.89" y="276.80" width="13.31" height="13.80" rx="3.4" ry="4.2" fill="#fff" stroke="#1d1d1b" stroke-width="1.7"/><path d="M945.60,277.60Q943.20,283.70 945.60,289.80" fill="none" stroke="#9a9a9a" stroke-width="0.8"/><ellipse cx="947.00" cy="283.70" rx="1.3" ry="2.7" fill="#8a8a8a" stroke="#1d1d1b" stroke-width="1.3"/><path d="M982.59,310.90H967.00Q964.00,310.90 964.00,315.20Q964.00,319.50 967.00,319.50H982.59Z" fill="#fff" stroke="#1d1d1b" stroke-width="1.7"/><rect x="980.59" y="308.30" width="13.31" height="13.80" rx="3.4" ry="4.2" fill="#fff" stroke="#1d1d1b" stroke-width="1.7"/><path d="M989.30,309.10Q986.90,315.20 989.30,321.30" fill="none" stroke="#9a9a9a" stroke-width="0.8"/><ellipse cx="990.70" cy="315.20" rx="1.3" ry="2.7" fill="#8a8a8a" stroke="#1d1d1b" stroke-width="1.3"/><path d="M912.59,370.10H897.00Q894.00,370.10 894.00,374.40Q894.00,378.70 897.00,378.70H912.59Z" fill="#fff" stroke="#1d1d1b" stroke-width="1.7"/><rect x="910.59" y="367.50" width="13.31" height="13.80" rx="3.4" ry="4.2" fill="#fff" stroke="#1d1d1b" stroke-width="1.7"/><path d="M919.30,368.30Q916.90,374.40 919.30,380.50" fill="none" stroke="#9a9a9a" stroke-width="0.8"/><ellipse cx="920.70" cy="374.40" rx="1.3" ry="2.7" fill="#8a8a8a" stroke="#1d1d1b" stroke-width="1.3"/><path d="M981.59,434.70H966.00Q963.00,434.70 963.00,439.00Q963.00,443.30 966.00,443.30H981.59Z" fill="#fff" stroke="#1d1d1b" stroke-width="1.7"/><rect x="979.59" y="432.10" width="13.31" height="13.80" rx="3.4" ry="4.2" fill="#fff" stroke="#1d1d1b" stroke-width="1.7"/><path d="M988.30,432.90Q985.90,439.00 988.30,445.10" fill="none" stroke="#9a9a9a" stroke-width="0.8"/><ellipse cx="989.70" cy="439.00" rx="1.3" ry="2.7" fill="#8a8a8a" stroke="#1d1d1b" stroke-width="1.3"/><path d="M920.82,494.00H905.50Q902.50,494.00 902.50,498.30Q902.50,502.60 905.50,502.60H920.82Z" fill="#fff" stroke="#1d1d1b" stroke-width="1.7"/><rect x="918.82" y="491.40" width="13.08" height="13.80" rx="3.4" ry="4.2" fill="#fff" stroke="#1d1d1b" stroke-width="1.7"/><path d="M927.30,492.20Q924.90,498.30 927.30,504.40" fill="none" stroke="#9a9a9a" stroke-width="0.8"/><ellipse cx="928.70" cy="498.30" rx="1.3" ry="2.7" fill="#8a8a8a" stroke="#1d1d1b" stroke-width="1.3"/><path d="M952.32,525.70H937.00Q934.00,525.70 934.00,530.00Q934.00,534.30 937.00,534.30H952.32Z" fill="#fff" stroke="#1d1d1b" stroke-width="1.7"/><rect x="950.32" y="523.10" width="13.08" height="13.80" rx="3.4" ry="4.2" fill="#fff" stroke="#1d1d1b" stroke-width="1.7"/><path d="M958.80,523.90Q956.40,530.00 958.80,536.10" fill="none" stroke="#9a9a9a" stroke-width="0.8"/><ellipse cx="960.20" cy="530.00" rx="1.3" ry="2.7" fill="#8a8a8a" stroke="#1d1d1b" stroke-width="1.3"/><ellipse cx="810.70" cy="283.30" rx="4.7" ry="8.5" fill="#222" stroke="#1d1d1b" stroke-width="1.0"/><ellipse cx="811.20" cy="283.30" rx="2.6" ry="5.2" fill="#222" stroke="#dcdcdc" stroke-width="0.75"/><ellipse cx="811.40" cy="283.30" rx="0.8" ry="2.3" fill="#c4c4c4" stroke="none"/><ellipse cx="839.50" cy="315.20" rx="4.7" ry="8.5" fill="#222" stroke="#1d1d1b" stroke-width="1.0"/><ellipse cx="840.00" cy="315.20" rx="2.6" ry="5.2" fill="#222" stroke="#dcdcdc" stroke-width="0.75"/><ellipse cx="840.20" cy="315.20" rx="0.8" ry="2.3" fill="#c4c4c4" stroke="none"/><ellipse cx="786.20" cy="374.00" rx="4.7" ry="8.5" fill="#222" stroke="#1d1d1b" stroke-width="1.0"/><ellipse cx="786.70" cy="374.00" rx="2.6" ry="5.2" fill="#222" stroke="#dcdcdc" stroke-width="0.75"/><ellipse cx="786.90" cy="374.00" rx="0.8" ry="2.3" fill="#c4c4c4" stroke="none"/><ellipse cx="846.00" cy="438.80" rx="4.7" ry="8.5" fill="#222" stroke="#1d1d1b" stroke-width="1.0"/><ellipse cx="846.50" cy="438.80" rx="2.6" ry="5.2" fill="#222" stroke="#dcdcdc" stroke-width="0.75"/><ellipse cx="846.70" cy="438.80" rx="0.8" ry="2.3" fill="#c4c4c4" stroke="none"/><ellipse cx="790.50" cy="497.60" rx="4.7" ry="8.5" fill="#222" stroke="#1d1d1b" stroke-width="1.0"/><ellipse cx="791.00" cy="497.60" rx="2.6" ry="5.2" fill="#222" stroke="#dcdcdc" stroke-width="0.75"/><ellipse cx="791.20" cy="497.60" rx="0.8" ry="2.3" fill="#c4c4c4" stroke="none"/><ellipse cx="827.50" cy="529.80" rx="4.7" ry="8.5" fill="#222" stroke="#1d1d1b" stroke-width="1.0"/><ellipse cx="828.00" cy="529.80" rx="2.6" ry="5.2" fill="#222" stroke="#dcdcdc" stroke-width="0.75"/><ellipse cx="828.20" cy="529.80" rx="0.8" ry="2.3" fill="#c4c4c4" stroke="none"/></g>
<g id="disc" stroke-linejoin="round" stroke-linecap="round"><ellipse cx="492.00" cy="405.90" rx="58.8" ry="119.9" fill="#fff" stroke="#1d1d1b" stroke-width="1.25"/><ellipse cx="496.30" cy="405.90" rx="58.8" ry="119.30000000000001" fill="#fff" stroke="#1d1d1b" stroke-width="2.2"/><ellipse cx="500.10" cy="405.90" rx="58.8" ry="118.7" fill="#fff" stroke="#1d1d1b" stroke-width="1.4"/><ellipse cx="492.80" cy="308.40" rx="2.3" ry="5.0" fill="#8c8c8c" stroke="#1d1d1b" stroke-width="1.9"/><ellipse cx="505.90" cy="308.40" rx="2.3" ry="5.0" fill="#8c8c8c" stroke="#1d1d1b" stroke-width="1.9"/><ellipse cx="470.40" cy="327.60" rx="2.3" ry="5.0" fill="#8c8c8c" stroke="#1d1d1b" stroke-width="1.9"/><ellipse cx="528.80" cy="326.00" rx="2.3" ry="5.0" fill="#8c8c8c" stroke="#1d1d1b" stroke-width="1.9"/><ellipse cx="460.80" cy="346.80" rx="2.3" ry="5.0" fill="#8c8c8c" stroke="#1d1d1b" stroke-width="1.9"/><ellipse cx="538.40" cy="346.00" rx="2.3" ry="5.0" fill="#8c8c8c" stroke="#1d1d1b" stroke-width="1.9"/><ellipse cx="451.50" cy="393.20" rx="2.3" ry="5.0" fill="#8c8c8c" stroke="#1d1d1b" stroke-width="1.9"/><ellipse cx="547.50" cy="391.60" rx="2.3" ry="5.0" fill="#8c8c8c" stroke="#1d1d1b" stroke-width="1.9"/><ellipse cx="451.50" cy="419.60" rx="2.3" ry="5.0" fill="#8c8c8c" stroke="#1d1d1b" stroke-width="1.9"/><ellipse cx="547.50" cy="418.00" rx="2.3" ry="5.0" fill="#8c8c8c" stroke="#1d1d1b" stroke-width="1.9"/><ellipse cx="460.60" cy="465.60" rx="2.3" ry="5.0" fill="#8c8c8c" stroke="#1d1d1b" stroke-width="1.9"/><ellipse cx="538.00" cy="464.00" rx="2.3" ry="5.0" fill="#8c8c8c" stroke="#1d1d1b" stroke-width="1.9"/><ellipse cx="470.20" cy="484.80" rx="2.3" ry="5.0" fill="#8c8c8c" stroke="#1d1d1b" stroke-width="1.9"/><ellipse cx="528.40" cy="483.80" rx="2.3" ry="5.0" fill="#8c8c8c" stroke="#1d1d1b" stroke-width="1.9"/><ellipse cx="492.60" cy="502.40" rx="2.3" ry="5.0" fill="#8c8c8c" stroke="#1d1d1b" stroke-width="1.9"/><ellipse cx="505.40" cy="502.40" rx="2.3" ry="5.0" fill="#8c8c8c" stroke="#1d1d1b" stroke-width="1.9"/><ellipse cx="499.20" cy="405.80" rx="38.6" ry="76" fill="#fff" stroke="#1d1d1b" stroke-width="1.9"/><ellipse cx="498.20" cy="405.80" rx="36.2" ry="73.2" fill="none" stroke="#1d1d1b" stroke-width="0.9"/><ellipse cx="491.50" cy="338.00" rx="2.1" ry="3.3" fill="#fff" stroke="#1d1d1b" stroke-width="1.3"/><ellipse cx="505.90" cy="338.00" rx="2.1" ry="3.3" fill="#fff" stroke="#1d1d1b" stroke-width="1.3"/><ellipse cx="479.50" cy="348.40" rx="2.1" ry="3.3" fill="#fff" stroke="#1d1d1b" stroke-width="1.3"/><ellipse cx="517.60" cy="347.90" rx="2.1" ry="3.3" fill="#fff" stroke="#1d1d1b" stroke-width="1.3"/><ellipse cx="469.90" cy="367.90" rx="2.1" ry="3.3" fill="#fff" stroke="#1d1d1b" stroke-width="1.3"/><ellipse cx="518.90" cy="364.70" rx="2.1" ry="3.3" fill="#fff" stroke="#1d1d1b" stroke-width="1.3"/><ellipse cx="526.90" cy="367.90" rx="2.1" ry="3.3" fill="#fff" stroke="#1d1d1b" stroke-width="1.3"/><ellipse cx="465.60" cy="392.40" rx="2.1" ry="3.3" fill="#fff" stroke="#1d1d1b" stroke-width="1.3"/><ellipse cx="471.20" cy="391.10" rx="2.1" ry="3.3" fill="#fff" stroke="#1d1d1b" stroke-width="1.3"/><ellipse cx="532.50" cy="391.60" rx="2.1" ry="3.3" fill="#fff" stroke="#1d1d1b" stroke-width="1.3"/><ellipse cx="532.50" cy="419.60" rx="2.1" ry="3.3" fill="#fff" stroke="#1d1d1b" stroke-width="1.3"/><ellipse cx="465.60" cy="420.40" rx="2.1" ry="3.3" fill="#fff" stroke="#1d1d1b" stroke-width="1.3"/><ellipse cx="469.20" cy="443.20" rx="2.1" ry="3.3" fill="#fff" stroke="#1d1d1b" stroke-width="1.3"/><ellipse cx="526.80" cy="443.20" rx="2.1" ry="3.3" fill="#fff" stroke="#1d1d1b" stroke-width="1.3"/><ellipse cx="506.00" cy="460.80" rx="2.1" ry="3.3" fill="#fff" stroke="#1d1d1b" stroke-width="1.3"/><ellipse cx="478.80" cy="464.00" rx="2.1" ry="3.3" fill="#fff" stroke="#1d1d1b" stroke-width="1.3"/><ellipse cx="518.80" cy="464.00" rx="2.1" ry="3.3" fill="#fff" stroke="#1d1d1b" stroke-width="1.3"/><ellipse cx="491.60" cy="473.60" rx="2.1" ry="3.3" fill="#fff" stroke="#1d1d1b" stroke-width="1.3"/><ellipse cx="506.00" cy="473.60" rx="2.1" ry="3.3" fill="#fff" stroke="#1d1d1b" stroke-width="1.3"/><ellipse cx="484.80" cy="342.00" rx="1.8" ry="2.7" fill="#1d1d1b" stroke="none"/><ellipse cx="510.90" cy="341.70" rx="1.8" ry="2.7" fill="#1d1d1b" stroke="none"/><ellipse cx="465.60" cy="380.40" rx="1.8" ry="2.7" fill="#1d1d1b" stroke="none"/><ellipse cx="529.60" cy="378.80" rx="1.8" ry="2.7" fill="#1d1d1b" stroke="none"/><ellipse cx="465.00" cy="432.00" rx="1.8" ry="2.7" fill="#1d1d1b" stroke="none"/><ellipse cx="530.00" cy="432.00" rx="1.8" ry="2.7" fill="#1d1d1b" stroke="none"/><ellipse cx="484.20" cy="468.80" rx="1.8" ry="2.7" fill="#1d1d1b" stroke="none"/><ellipse cx="511.80" cy="468.80" rx="1.8" ry="2.7" fill="#1d1d1b" stroke="none"/><g transform="translate(499.5,405) scale(0.49,1) translate(46.68,-6.98) rotate(81.5)"><rect x="-15" y="-9.5" width="30" height="19.0" fill="#fff" stroke="#1d1d1b" stroke-width="2.0" vector-effect="non-scaling-stroke"/><rect x="-14" y="-13.5" width="28" height="4" fill="#fff" stroke="#1d1d1b" stroke-width="0.9" vector-effect="non-scaling-stroke"/><path d="M-11.5,-8.5Q-5.5,0 -11.5,8.5" fill="none" stroke="#1d1d1b" stroke-width="1.7" vector-effect="non-scaling-stroke"/><path d="M-7.0,-8.5Q-1.0,0 -7.0,8.5" fill="none" stroke="#8a8a8a" stroke-width="0.9" vector-effect="non-scaling-stroke"/><path d="M-1.5,-8.5Q4.5,0 -1.5,8.5" fill="none" stroke="#1d1d1b" stroke-width="1.7" vector-effect="non-scaling-stroke"/><path d="M3.0,-8.5Q9.0,0 3.0,8.5" fill="none" stroke="#8a8a8a" stroke-width="0.9" vector-effect="non-scaling-stroke"/><path d="M8.5,-8.5Q14.5,0 8.5,8.5" fill="none" stroke="#1d1d1b" stroke-width="1.7" vector-effect="non-scaling-stroke"/><path d="M13.0,-8.5Q19.0,0 13.0,8.5" fill="none" stroke="#8a8a8a" stroke-width="0.9" vector-effect="non-scaling-stroke"/></g><g transform="translate(499.5,405) scale(0.49,1) translate(6.89,-47.81) rotate(8.2)"><rect x="-15" y="-9.5" width="30" height="19.0" fill="#fff" stroke="#1d1d1b" stroke-width="2.0" vector-effect="non-scaling-stroke"/><rect x="-14" y="-13.5" width="28" height="4" fill="#fff" stroke="#1d1d1b" stroke-width="0.9" vector-effect="non-scaling-stroke"/><path d="M-11.5,-8.5Q-5.5,0 -11.5,8.5" fill="none" stroke="#1d1d1b" stroke-width="1.7" vector-effect="non-scaling-stroke"/><path d="M-7.0,-8.5Q-1.0,0 -7.0,8.5" fill="none" stroke="#8a8a8a" stroke-width="0.9" vector-effect="non-scaling-stroke"/><path d="M-1.5,-8.5Q4.5,0 -1.5,8.5" fill="none" stroke="#1d1d1b" stroke-width="1.7" vector-effect="non-scaling-stroke"/><path d="M3.0,-8.5Q9.0,0 3.0,8.5" fill="none" stroke="#8a8a8a" stroke-width="0.9" vector-effect="non-scaling-stroke"/><path d="M8.5,-8.5Q14.5,0 8.5,8.5" fill="none" stroke="#1d1d1b" stroke-width="1.7" vector-effect="non-scaling-stroke"/><path d="M13.0,-8.5Q19.0,0 13.0,8.5" fill="none" stroke="#8a8a8a" stroke-width="0.9" vector-effect="non-scaling-stroke"/></g><g transform="translate(499.5,405) scale(0.49,1) translate(-33.26,-37.33) rotate(-41.7)"><rect x="-15" y="-9.5" width="30" height="19.0" fill="#fff" stroke="#1d1d1b" stroke-width="2.0" vector-effect="non-scaling-stroke"/><rect x="-14" y="-13.5" width="28" height="4" fill="#fff" stroke="#1d1d1b" stroke-width="0.9" vector-effect="non-scaling-stroke"/><path d="M-11.5,-8.5Q-5.5,0 -11.5,8.5" fill="none" stroke="#1d1d1b" stroke-width="1.7" vector-effect="non-scaling-stroke"/><path d="M-7.0,-8.5Q-1.0,0 -7.0,8.5" fill="none" stroke="#8a8a8a" stroke-width="0.9" vector-effect="non-scaling-stroke"/><path d="M-1.5,-8.5Q4.5,0 -1.5,8.5" fill="none" stroke="#1d1d1b" stroke-width="1.7" vector-effect="non-scaling-stroke"/><path d="M3.0,-8.5Q9.0,0 3.0,8.5" fill="none" stroke="#8a8a8a" stroke-width="0.9" vector-effect="non-scaling-stroke"/><path d="M8.5,-8.5Q14.5,0 8.5,8.5" fill="none" stroke="#1d1d1b" stroke-width="1.7" vector-effect="non-scaling-stroke"/><path d="M13.0,-8.5Q19.0,0 13.0,8.5" fill="none" stroke="#8a8a8a" stroke-width="0.9" vector-effect="non-scaling-stroke"/></g><g transform="translate(499.5,405) scale(0.49,1) translate(-50.43,17.86) rotate(-109.5)"><rect x="-15" y="-9.5" width="30" height="19.0" fill="#fff" stroke="#1d1d1b" stroke-width="2.0" vector-effect="non-scaling-stroke"/><rect x="-14" y="-13.5" width="28" height="4" fill="#fff" stroke="#1d1d1b" stroke-width="0.9" vector-effect="non-scaling-stroke"/><path d="M-11.5,-8.5Q-5.5,0 -11.5,8.5" fill="none" stroke="#1d1d1b" stroke-width="1.7" vector-effect="non-scaling-stroke"/><path d="M-7.0,-8.5Q-1.0,0 -7.0,8.5" fill="none" stroke="#8a8a8a" stroke-width="0.9" vector-effect="non-scaling-stroke"/><path d="M-1.5,-8.5Q4.5,0 -1.5,8.5" fill="none" stroke="#1d1d1b" stroke-width="1.7" vector-effect="non-scaling-stroke"/><path d="M3.0,-8.5Q9.0,0 3.0,8.5" fill="none" stroke="#8a8a8a" stroke-width="0.9" vector-effect="non-scaling-stroke"/><path d="M8.5,-8.5Q14.5,0 8.5,8.5" fill="none" stroke="#1d1d1b" stroke-width="1.7" vector-effect="non-scaling-stroke"/><path d="M13.0,-8.5Q19.0,0 13.0,8.5" fill="none" stroke="#8a8a8a" stroke-width="0.9" vector-effect="non-scaling-stroke"/></g><g transform="translate(499.5,405) scale(0.49,1) translate(-19.33,47.84) rotate(-158.0)"><rect x="-15" y="-9.5" width="30" height="19.0" fill="#fff" stroke="#1d1d1b" stroke-width="2.0" vector-effect="non-scaling-stroke"/><rect x="-14" y="-13.5" width="28" height="4" fill="#fff" stroke="#1d1d1b" stroke-width="0.9" vector-effect="non-scaling-stroke"/><path d="M-11.5,-8.5Q-5.5,0 -11.5,8.5" fill="none" stroke="#1d1d1b" stroke-width="1.7" vector-effect="non-scaling-stroke"/><path d="M-7.0,-8.5Q-1.0,0 -7.0,8.5" fill="none" stroke="#8a8a8a" stroke-width="0.9" vector-effect="non-scaling-stroke"/><path d="M-1.5,-8.5Q4.5,0 -1.5,8.5" fill="none" stroke="#1d1d1b" stroke-width="1.7" vector-effect="non-scaling-stroke"/><path d="M3.0,-8.5Q9.0,0 3.0,8.5" fill="none" stroke="#8a8a8a" stroke-width="0.9" vector-effect="non-scaling-stroke"/><path d="M8.5,-8.5Q14.5,0 8.5,8.5" fill="none" stroke="#1d1d1b" stroke-width="1.7" vector-effect="non-scaling-stroke"/><path d="M13.0,-8.5Q19.0,0 13.0,8.5" fill="none" stroke="#8a8a8a" stroke-width="0.9" vector-effect="non-scaling-stroke"/></g><g transform="translate(499.5,405) scale(0.49,1) translate(36.00,30.21) rotate(-230.0)"><rect x="-15" y="-9.5" width="30" height="19.0" fill="#fff" stroke="#1d1d1b" stroke-width="2.0" vector-effect="non-scaling-stroke"/><rect x="-14" y="-13.5" width="28" height="4" fill="#fff" stroke="#1d1d1b" stroke-width="0.9" vector-effect="non-scaling-stroke"/><path d="M-11.5,-8.5Q-5.5,0 -11.5,8.5" fill="none" stroke="#1d1d1b" stroke-width="1.7" vector-effect="non-scaling-stroke"/><path d="M-7.0,-8.5Q-1.0,0 -7.0,8.5" fill="none" stroke="#8a8a8a" stroke-width="0.9" vector-effect="non-scaling-stroke"/><path d="M-1.5,-8.5Q4.5,0 -1.5,8.5" fill="none" stroke="#1d1d1b" stroke-width="1.7" vector-effect="non-scaling-stroke"/><path d="M3.0,-8.5Q9.0,0 3.0,8.5" fill="none" stroke="#8a8a8a" stroke-width="0.9" vector-effect="non-scaling-stroke"/><path d="M8.5,-8.5Q14.5,0 8.5,8.5" fill="none" stroke="#1d1d1b" stroke-width="1.7" vector-effect="non-scaling-stroke"/><path d="M13.0,-8.5Q19.0,0 13.0,8.5" fill="none" stroke="#8a8a8a" stroke-width="0.9" vector-effect="non-scaling-stroke"/></g><ellipse cx="499.60" cy="404.60" rx="11.2" ry="18.6" fill="#fff" stroke="#1d1d1b" stroke-width="2.2"/><ellipse cx="500.20" cy="405.60" rx="7.0" ry="13.8" fill="#242424" stroke="#1d1d1b" stroke-width="1.2"/><clipPath id="clipHub"><ellipse cx="500.2" cy="405.6" rx="6.4" ry="13.2"/></clipPath><g clip-path="url(#clipHub)"><rect x="492" y="393.5" width="16" height="1.2" fill="#bdbdbd"/><rect x="492" y="396.9" width="16" height="1.2" fill="#bdbdbd"/><rect x="492" y="400.3" width="16" height="1.2" fill="#bdbdbd"/><rect x="492" y="403.7" width="16" height="1.2" fill="#bdbdbd"/><rect x="492" y="407.1" width="16" height="1.2" fill="#bdbdbd"/><rect x="492" y="410.5" width="16" height="1.2" fill="#bdbdbd"/><rect x="492" y="413.9" width="16" height="1.2" fill="#bdbdbd"/><rect x="492" y="417.3" width="16" height="1.2" fill="#bdbdbd"/></g></g>
<g id="plate" stroke-linejoin="round" stroke-linecap="round"><path d="M731,300L726,290.5L720,284.5L715,280.5L710,277L705,274L695,270.3L680,270L670,272.8L662,277L657.3,281.5L657,289L652,289.5L648.3,294L649,303L643,324L635,343L633,347L625,350L621,354L619.5,365L617.6,380L618.6,386L620.5,389L622,396L623,430L619.8,435L618,438L619,445.6L623.2,457.6L629.2,478L633.6,490.5L632.2,497.2L640,512.8L646,515.2L649.6,512.5L651.4,522.4L656.8,527.2L662.8,527.2L672.4,530.8L686.8,536.8L692.8,541.6L698.8,538L706,533.2L718,526L730,516.4L737,507L703,406Z" fill="#fff" stroke="#1d1d1b" stroke-width="1.6" /><path d="M638,349L630,353.5L626,357.5L624.2,366L622.2,380L624.4,390L626.2,396L627,430L624,437.4L623.4,446L627.6,457.6L633.6,478L638,490" fill="none" stroke="#1d1d1b" stroke-width="1.2" /><path d="M644.5,352V462 M647.5,356V455" fill="none" stroke="#b9b9b9" stroke-width="0.9" /><path d="M633,356L646,352 M636,368L650,362 M640,330L655,318 M637,345L652,338" fill="none" stroke="#b9b9b9" stroke-width="0.8" /><ellipse cx="703.80" cy="406.20" rx="59.8" ry="115.8" fill="#fff" stroke="none"/><path d="M675.73,303.95L673.37,306.51L671.08,309.27L668.86,312.22L666.71,315.36L664.63,318.69L662.64,322.20L660.72,325.88L658.90,329.72L657.16,333.72L655.52,337.86L653.98,342.15L652.54,346.56L651.21,351.09L649.98,355.74L648.86,360.49L647.85,365.33L646.95,370.26L646.17,375.25L645.51,380.31L644.97,385.43L644.55,390.58L644.24,395.77L644.06,400.98L644.00,406.20L644.06,411.42L644.24,416.63L644.55,421.82L644.97,426.97L645.51,432.09L646.17,437.15L646.95,442.14L647.85,447.07L648.86,451.91L649.98,456.66L651.21,461.31L652.54,465.84L653.98,470.25L655.52,474.54L657.16,478.68L658.90,482.68L660.72,486.52L662.64,490.20L664.63,493.71L666.71,497.04L668.86,500.18L671.08,503.13L673.37,505.89L675.73,508.45" fill="none" stroke="#b9b9b9" stroke-width="1.0" /><path d="M730.01,510.28L732.45,507.85L734.82,505.20L737.13,502.34L739.37,499.29L741.53,496.03L743.62,492.59L745.62,488.97L747.53,485.18L749.36,481.21L751.08,477.09L752.71,472.83L754.23,468.42L755.65,463.88L756.96,459.22L758.16,454.45L759.25,449.58L760.21,444.62L761.06,439.57L761.79,434.46L762.40,429.29L762.88,424.07L763.24,418.81L763.48,413.52L763.59,408.22L763.58,402.92L763.44,397.62L763.17,392.34L762.78,387.09L762.27,381.88L761.63,376.72L760.87,371.62L759.99,366.59L759.00,361.65L757.89,356.80L756.66,352.06L755.33,347.43L753.88,342.92L752.33,338.54L750.68,334.31L748.93,330.23L747.09,326.31L745.15,322.55L743.13,318.97L741.03,315.57L738.84,312.37L736.59,309.36L734.26,306.55L731.87,303.95" fill="none" stroke="#1d1d1b" stroke-width="2.1" /><path d="M731.87,303.95L730.79,302.87L729.70,301.83L728.60,300.83L727.49,299.87L726.36,298.96L725.23,298.09L724.09,297.27L722.94,296.49L721.78,295.76L720.62,295.07L719.45,294.43L718.27,293.84L717.08,293.29L715.89,292.79L714.70,292.34L713.50,291.93L712.29,291.57L711.09,291.26L709.88,291.00L708.67,290.78L707.45,290.62L706.23,290.50L705.02,290.42L703.80,290.40L702.58,290.42L701.37,290.50L700.15,290.62L698.93,290.78L697.72,291.00L696.51,291.26L695.31,291.57L694.10,291.93L692.90,292.34L691.71,292.79L690.52,293.29L689.33,293.84L688.15,294.43L686.98,295.07L685.82,295.76L684.66,296.49L683.51,297.27L682.37,298.09L681.24,298.96L680.11,299.87L679.00,300.83L677.90,301.83L676.81,302.87L675.73,303.95" fill="none" stroke="#8c8c8c" stroke-width="1.0" /><path d="M675.73,508.45L676.77,509.49L677.82,510.50L678.88,511.47L679.95,512.40L681.04,513.28L682.13,514.13L683.22,514.93L684.33,515.69L685.44,516.41L686.57,517.09L687.69,517.72L688.83,518.31L689.97,518.86L691.11,519.36L692.26,519.82L693.42,520.24L694.57,520.61L695.74,520.94L696.90,521.23L698.07,521.47L699.24,521.66L700.41,521.81L701.58,521.92L702.76,521.98L703.93,522.00L705.10,521.97L706.28,521.90L707.45,521.78L708.62,521.62L709.79,521.42L710.96,521.17L712.12,520.87L713.28,520.53L714.44,520.15L715.59,519.73L716.74,519.26L717.89,518.74L719.03,518.18L720.16,517.58L721.28,516.94L722.40,516.25L723.52,515.53L724.62,514.75L725.72,513.94L726.80,513.09L727.88,512.19L728.95,511.26L730.01,510.28" fill="none" stroke="#1d1d1b" stroke-width="1.2" /><path d="M696.41,515.04L698.00,515.55L699.59,515.96L701.19,516.29L702.79,516.52L704.39,516.65L706.00,516.70L707.61,516.65L709.21,516.52L710.81,516.29L712.41,515.96L714.00,515.55L715.59,515.04L717.16,514.45L718.73,513.76L720.29,512.99L721.83,512.12L723.36,511.17L724.88,510.13L726.38,509.00L727.86,507.79L729.33,506.49L730.77,505.11L732.20,503.64L733.60,502.10L734.98,500.47L736.33,498.77L737.66,496.99L738.96,495.13L740.24,493.20L741.48,491.20L742.70,489.13L743.88,486.98L745.03,484.77L746.15,482.50L747.24,480.16L748.29,477.76L749.30,475.31L750.28,472.79L751.22,470.22L752.12,467.60L752.98,464.92L753.80,462.20L754.59,459.43L755.33,456.62L756.03,453.77L756.69,450.87L757.30,447.94L757.87,444.98" fill="none" stroke="#555" stroke-width="0.9" /><path d="M757.87,444.98L758.71,440.10L759.42,435.14L760.02,430.13L760.50,425.06L760.85,419.96L761.08,414.83L761.19,409.68L761.18,404.53L761.04,399.39L760.78,394.26L760.40,389.16L759.89,384.11L759.27,379.11L758.52,374.17L757.66,369.30L756.69,364.53L755.60,359.85L754.40,355.27L753.09,350.82L751.67,346.49L750.16,342.29L748.54,338.25L746.83,334.35L745.03,330.63L743.14,327.07L741.17,323.69L739.12,320.51L737.00,317.51L734.81,314.72L732.55,312.14L730.23,309.77L727.86,307.61L725.44,305.69L722.98,303.99L720.48,302.52L717.95,301.28L715.39,300.29L712.81,299.53L710.21,299.02L707.61,298.75L705.00,298.72L702.39,298.93L699.79,299.39L697.21,300.09L694.64,301.03L692.10,302.21L689.59,303.63L687.12,305.27" fill="none" stroke="#8c8c8c" stroke-width="0.9" /><path d="M687.12,305.27L684.32,307.46L681.59,309.94L678.92,312.71L676.34,315.77L673.85,319.10L671.45,322.69L669.15,326.54L666.97,330.63L664.90,334.94L662.95,339.47L661.13,344.21L659.44,349.13L657.90,354.23L656.49,359.49L655.24,364.89L654.13,370.42L653.18,376.06L652.38,381.79L651.75,387.60L651.27,393.47L650.96,399.39L650.81,405.32L650.83,411.27L651.01,417.20L651.35,423.11L651.86,428.96L652.53,434.76L653.35,440.48L654.34,446.10L655.47,451.60L656.76,456.97L658.20,462.20L659.77,467.26L661.48,472.15L663.33,476.85L665.30,481.34L667.40,485.61L669.60,489.65L671.92,493.45L674.34,496.99L676.85,500.26L679.45,503.26L682.13,505.98L684.88,508.40L687.69,510.53L690.55,512.35L693.47,513.85L696.41,515.04" fill="none" stroke="#b9b9b9" stroke-width="0.9" /><path d="M690.09,499.91L691.67,500.99L693.26,501.97L694.86,502.84L696.48,503.61L698.12,504.27L699.76,504.82L701.41,505.27L703.06,505.62L704.73,505.85L706.39,505.98L708.06,505.99L709.72,505.90L711.38,505.71L713.04,505.40L714.69,504.99L716.34,504.47L717.97,503.84L719.60,503.11L721.21,502.27L722.81,501.33L724.39,500.28L725.95,499.13L727.49,497.88L729.01,496.54L730.51,495.09L731.98,493.55L733.43,491.91L734.85,490.18L736.24,488.36L737.60,486.45L738.92,484.45L740.22,482.37L741.48,480.20L742.70,477.96L743.88,475.63L745.03,473.23L746.13,470.76L747.20,468.22L748.22,465.61L749.19,462.93L750.13,460.19L751.02,457.40L751.86,454.54L752.65,451.64L753.39,448.68L754.09,445.68L754.74,442.63L755.33,439.54" fill="none" stroke="#555" stroke-width="1.0" /><path d="M755.33,439.54L756.18,434.49L756.90,429.36L757.48,424.16L757.91,418.91L758.21,413.62L758.37,408.30L758.39,402.98L758.27,397.66L758.00,392.36L757.59,387.10L757.05,381.89L756.37,376.74L755.55,371.67L754.60,366.69L753.51,361.82L752.30,357.07L750.97,352.45L749.51,347.97L747.94,343.66L746.25,339.52L744.46,335.56L742.56,331.79L740.57,328.22L738.49,324.87L736.31,321.74L734.06,318.84L731.74,316.19L729.35,313.78L726.89,311.62L724.39,309.72L721.83,308.09L719.24,306.72L716.61,305.63L713.96,304.82L711.29,304.28L708.61,304.02L705.93,304.05L703.25,304.35L700.58,304.94L697.93,305.80L695.31,306.94L692.72,308.35L690.18,310.03L687.68,311.97L685.24,314.17L682.86,316.63L680.54,319.33L678.30,322.27" fill="none" stroke="#8c8c8c" stroke-width="1.0" /><path d="M678.30,322.27L676.44,324.98L674.64,327.87L672.91,330.91L671.25,334.10L669.66,337.45L668.15,340.93L666.73,344.54L665.38,348.28L664.13,352.13L662.96,356.10L661.89,360.16L660.91,364.32L660.03,368.56L659.24,372.88L658.56,377.27L657.97,381.71L657.49,386.20L657.11,390.73L656.84,395.28L656.67,399.86L656.60,404.45L656.64,409.04L656.79,413.62L657.04,418.18L657.39,422.72L657.85,427.22L658.41,431.67L659.07,436.07L659.83,440.41L660.69,444.67L661.65,448.85L662.70,452.93L663.84,456.92L665.08,460.81L666.40,464.57L667.80,468.22L669.29,471.73L670.86,475.11L672.50,478.34L674.22,481.42L676.00,484.34L677.85,487.10L679.76,489.69L681.73,492.10L683.75,494.33L685.82,496.38L687.94,498.24L690.09,499.91" fill="none" stroke="#b9b9b9" stroke-width="1.0" /><g transform="rotate(-2 708 405)"><ellipse cx="707.50" cy="405.30" rx="45.5" ry="89.8" fill="none" stroke="#1d1d1b" stroke-width="1.7"/><ellipse cx="707.40" cy="405.40" rx="42.6" ry="84.4" fill="none" stroke="#6a6a6a" stroke-width="0.9"/><path d="M744.77,353.79L744.34,352.60L743.90,351.41L743.45,350.25L742.98,349.09L742.51,347.95L742.03,346.83L741.54,345.72L741.05,344.63L740.54,343.56L740.02,342.50L739.50,341.46L738.96,340.43L738.42,339.42L737.87,338.43L737.31,337.46L736.75,336.51L736.17,335.57L735.59,334.66L735.00,333.76L734.40,332.88L733.80,332.02L733.19,331.18L732.57,330.36L731.95,329.56L731.32,328.78L730.68,328.03L730.03,327.29L729.38,326.57L728.73,325.87L728.07,325.20L727.40,324.55L726.73,323.91L726.05,323.30L725.37,322.72L724.68,322.15L723.99,321.61L723.29,321.08L722.59,320.59L721.89,320.11L721.18,319.66L720.47,319.23L719.75,318.82L719.04,318.43L718.31,318.07L717.59,317.74L716.86,317.42L716.13,317.13L715.40,316.86M701.17,316.37L700.48,316.58L699.79,316.80L699.11,317.04L698.43,317.30L697.75,317.59L697.07,317.89L696.40,318.22L695.72,318.56L695.05,318.92L694.39,319.31L693.72,319.72L693.06,320.14L692.41,320.59L691.75,321.05L691.10,321.53L690.46,322.04L689.81,322.56L689.18,323.11L688.54,323.67L687.91,324.25L687.29,324.85L686.67,325.47L686.05,326.10L685.44,326.76L684.84,327.43L684.24,328.13L683.64,328.84L683.05,329.56L682.47,330.31L681.89,331.07L681.32,331.85L680.76,332.65L680.20,333.46L679.64,334.30L679.10,335.14L678.56,336.01L678.03,336.89L677.50,337.78L676.98,338.70L676.47,339.62L675.96,340.57L675.47,341.53L674.98,342.50L674.50,343.49L674.02,344.49L673.55,345.50L673.10,346.53L672.64,347.58M719.28,492.04L719.99,491.65L720.71,491.23L721.42,490.80L722.13,490.33L722.83,489.85L723.53,489.34L724.22,488.82L724.91,488.26L725.60,487.69L726.28,487.10L726.95,486.48L727.62,485.84L728.29,485.18L728.95,484.50L729.60,483.79L730.25,483.07L730.89,482.32L731.53,481.56L732.16,480.77L732.78,479.97L733.39,479.14L734.00,478.29L734.60,477.43L735.20,476.54L735.79,475.64L736.36,474.72L736.94,473.77L737.50,472.82L738.06,471.84L738.60,470.84L739.14,469.83L739.67,468.80L740.20,467.75L740.71,466.69L741.21,465.61L741.71,464.51L742.19,463.40L742.67,462.27L743.14,461.13L743.60,459.97L744.05,458.79L744.48,457.61L744.91,456.41L745.33,455.19L745.74,453.96L746.14,452.72L746.53,451.47L746.90,450.20M672.64,463.02L673.07,464.02L673.51,465.00L673.95,465.97L674.40,466.92L674.86,467.87L675.33,468.80L675.80,469.71L676.28,470.62L676.76,471.51L677.25,472.38L677.75,473.24L678.25,474.09L678.76,474.92L679.28,475.74L679.80,476.54L680.33,477.33L680.86,478.10L681.40,478.86L681.95,479.60L682.50,480.33L683.05,481.04L683.61,481.73L684.18,482.41L684.75,483.07L685.33,483.71L685.91,484.34L686.49,484.95L687.08,485.55L687.67,486.13L688.27,486.69L688.87,487.23L689.48,487.76L690.09,488.26L690.70,488.76L691.32,489.23L691.94,489.68L692.56,490.12L693.19,490.54L693.82,490.94L694.45,491.33L695.09,491.69L695.72,492.04L696.36,492.37L697.01,492.68L697.65,492.97L698.30,493.24L698.95,493.50L699.60,493.74" fill="none" stroke="#1d1d1b" stroke-width="2.3" /></g><g transform="rotate(-4 709.5 406.3)"><ellipse cx="710.30" cy="406.40" rx="33.3" ry="65" fill="#fff" stroke="#1d1d1b" stroke-width="2.0"/><path d="M718.92,469.19L720.66,468.17L722.37,466.98L724.04,465.61L725.68,464.06L727.26,462.33L728.80,460.45L730.28,458.40L731.70,456.19L733.06,453.84L734.35,451.35L735.57,448.72L736.72,445.97L737.78,443.10L738.77,440.12L739.67,437.04L740.48,433.87L741.20,430.62L741.83,427.29L742.37,423.91L742.81,420.47L743.16,416.99L743.40,413.48L743.55,409.94L743.60,406.40L743.55,402.86L743.40,399.32L743.16,395.81L742.81,392.33L742.37,388.89L741.83,385.51L741.20,382.18L740.48,378.93L739.67,375.76L738.77,372.68L737.78,369.70L736.72,366.83L735.57,364.08L734.35,361.45L733.06,358.96L731.70,356.61L730.28,354.40L728.80,352.35L727.26,350.47L725.68,348.74L724.04,347.19L722.37,345.82L720.66,344.63L718.92,343.61" fill="none" stroke="#1d1d1b" stroke-width="3.2" /><ellipse cx="709.30" cy="406.40" rx="29.6" ry="61.5" fill="#fff" stroke="#1d1d1b" stroke-width="1.0"/><clipPath id="clipP4"><ellipse cx="709.3" cy="406.4" rx="29.3" ry="61.0"/></clipPath><g clip-path="url(#clipP4)"><path d="M712.56,408.00L737.90,411.60" stroke="#1d1d1b" stroke-width="2.80" stroke-linecap="butt" fill="none"/><path d="M712.24,400.05L737.03,390.96" stroke="#1d1d1b" stroke-width="2.77" stroke-linecap="butt" fill="none"/><path d="M710.68,392.81L732.82,372.18" stroke="#1d1d1b" stroke-width="2.65" stroke-linecap="butt" fill="none"/><path d="M708.08,387.16L725.77,357.53" stroke="#1d1d1b" stroke-width="2.44" stroke-linecap="butt" fill="none"/><path d="M704.74,383.78L716.73,348.78" stroke="#1d1d1b" stroke-width="2.17" stroke-linecap="butt" fill="none"/><path d="M701.08,383.09L706.80,346.97" stroke="#1d1d1b" stroke-width="1.88" stroke-linecap="butt" fill="none"/><path d="M697.52,385.15L697.17,352.33" stroke="#1d1d1b" stroke-width="1.78" stroke-linecap="butt" fill="none"/><path d="M694.50,389.74L689.00,364.22" stroke="#1d1d1b" stroke-width="1.78" stroke-linecap="butt" fill="none"/><path d="M692.39,396.28L683.28,381.19" stroke="#1d1d1b" stroke-width="1.78" stroke-linecap="butt" fill="none"/><path d="M691.44,404.00L680.70,401.20" stroke="#1d1d1b" stroke-width="1.78" stroke-linecap="butt" fill="none"/><path d="M691.76,411.95L681.57,421.84" stroke="#1d1d1b" stroke-width="1.78" stroke-linecap="butt" fill="none"/><path d="M693.32,419.19L685.78,440.62" stroke="#1d1d1b" stroke-width="1.78" stroke-linecap="butt" fill="none"/><path d="M695.92,424.84L692.83,455.27" stroke="#1d1d1b" stroke-width="1.78" stroke-linecap="butt" fill="none"/><path d="M699.26,428.22L701.87,464.02" stroke="#1d1d1b" stroke-width="1.78" stroke-linecap="butt" fill="none"/><path d="M702.92,428.91L711.80,465.83" stroke="#1d1d1b" stroke-width="2.02" stroke-linecap="butt" fill="none"/><path d="M706.48,426.85L721.43,460.47" stroke="#1d1d1b" stroke-width="2.31" stroke-linecap="butt" fill="none"/><path d="M709.50,422.26L729.60,448.58" stroke="#1d1d1b" stroke-width="2.55" stroke-linecap="butt" fill="none"/><path d="M711.61,415.72L735.32,431.61" stroke="#1d1d1b" stroke-width="2.72" stroke-linecap="butt" fill="none"/><path d="M720.43,453.64L721.42,452.46L722.39,451.18L723.32,449.82L724.23,448.37L725.11,446.83L725.95,445.21L726.75,443.51L727.52,441.73L728.25,439.89L728.94,437.97L729.59,435.99L730.20,433.95L730.76,431.86L731.28,429.71L731.75,427.52L732.18,425.28L732.56,423.01L732.88,420.70L733.16,418.36L733.39,416.00L733.57,413.61L733.70,411.22L733.77,408.81L733.80,406.40L733.77,403.99L733.70,401.58L733.57,399.19L733.39,396.80L733.16,394.44L732.88,392.10L732.56,389.79L732.18,387.52L731.75,385.28L731.28,383.09L730.76,380.94L730.20,378.85L729.59,376.81L728.94,374.83L728.25,372.91L727.52,371.07L726.75,369.29L725.95,367.59L725.11,365.97L724.23,364.43L723.32,362.98L722.39,361.62L721.42,360.34L720.43,359.16" fill="none" stroke="#444" stroke-width="1.6" stroke-dasharray="1.6 2.6" stroke-linecap="butt"/></g><ellipse cx="702.00" cy="406.00" rx="10.6" ry="23" fill="#fff" stroke="#1d1d1b" stroke-width="1.3"/></g><path d="M708.19,324.51l-0.37,-10.98M702.41,324.89l-0.37,-10.98" fill="none" stroke="#1d1d1b" stroke-width="1.0" /><ellipse cx="705.30" cy="324.70" rx="3.0" ry="4.3" fill="#fff" stroke="#1d1d1b" stroke-width="1.4"/><path d="M734.65,339.91l3.24,-8.89M729.95,336.49l3.24,-8.89" fill="none" stroke="#1d1d1b" stroke-width="1.0" /><ellipse cx="732.30" cy="338.20" rx="3.0" ry="4.3" fill="#fff" stroke="#1d1d1b" stroke-width="1.4"/><path d="M682.05,346.95l-3.89,-7.78M677.95,351.05l-3.89,-7.78" fill="none" stroke="#1d1d1b" stroke-width="1.0" /><ellipse cx="680.00" cy="349.00" rx="3.0" ry="4.3" fill="#fff" stroke="#1d1d1b" stroke-width="1.4"/><path d="M748.34,386.80l5.32,-2.82M746.86,381.20l5.32,-2.82" fill="none" stroke="#1d1d1b" stroke-width="1.0" /><ellipse cx="747.60" cy="384.00" rx="3.0" ry="4.3" fill="#fff" stroke="#1d1d1b" stroke-width="1.4"/><path d="M669.51,396.51l-5.49,-0.79M669.09,402.29l-5.49,-0.79" fill="none" stroke="#1d1d1b" stroke-width="1.0" /><ellipse cx="669.30" cy="399.40" rx="3.0" ry="4.3" fill="#fff" stroke="#1d1d1b" stroke-width="1.4"/><path d="M745.52,442.05l5.03,4.47M747.88,436.75l5.03,4.47" fill="none" stroke="#1d1d1b" stroke-width="1.0" /><ellipse cx="746.70" cy="439.40" rx="3.0" ry="4.3" fill="#fff" stroke="#1d1d1b" stroke-width="1.4"/><path d="M673.87,450.67l-4.42,6.55M677.33,455.33l-4.42,6.55" fill="none" stroke="#1d1d1b" stroke-width="1.0" /><ellipse cx="675.60" cy="453.00" rx="3.0" ry="4.3" fill="#fff" stroke="#1d1d1b" stroke-width="1.4"/><path d="M724.41,481.31l2.49,9.81M729.59,478.69l2.49,9.81" fill="none" stroke="#1d1d1b" stroke-width="1.0" /><ellipse cx="727.00" cy="480.00" rx="3.0" ry="4.3" fill="#fff" stroke="#1d1d1b" stroke-width="1.4"/><path d="M695.78,485.34l-1.24,10.72M701.42,486.66l-1.24,10.72" fill="none" stroke="#1d1d1b" stroke-width="1.0" /><ellipse cx="698.60" cy="486.00" rx="3.0" ry="4.3" fill="#fff" stroke="#1d1d1b" stroke-width="1.4"/><path d="M628.5,365.5H638.5Q643.5,365.5 643.5,370.5V379Q643.5,384 638.5,384H628.5" fill="#fff" stroke="#1d1d1b" stroke-width="2.3" /><path d="M631.5,368.0V381.5M635.5,368.0V381.5M639.5,368.5V381" fill="none" stroke="#b9b9b9" stroke-width="0.7" /><ellipse cx="626.90" cy="374.75" rx="2.0" ry="3.8" fill="#fff" stroke="#1d1d1b" stroke-width="1.2"/><path d="M626.5,432.5H638.5Q643.5,432.5 643.5,437.5V441Q643.5,446 638.5,446H626.5" fill="#fff" stroke="#1d1d1b" stroke-width="2.3" /><path d="M629.5,435.0V443.5M633.5,435.0V443.5M637.5,435.5V443" fill="none" stroke="#b9b9b9" stroke-width="0.7" /><ellipse cx="624.90" cy="439.25" rx="2.0" ry="3.8" fill="#fff" stroke="#1d1d1b" stroke-width="1.2"/><g transform="rotate(14 650 495)"><path d="M643.5,487.5H654Q659,487.5 659,492.5V496.5Q659,501.5 654,501.5H643.5" fill="#fff" stroke="#1d1d1b" stroke-width="2.3" /><path d="M646.5,490.0V499.0M650.5,490.0V499.0M654.5,490.5V498.5" fill="none" stroke="#b9b9b9" stroke-width="0.7" /><ellipse cx="641.90" cy="494.50" rx="2.0" ry="3.8" fill="#fff" stroke="#1d1d1b" stroke-width="1.2"/></g><path d="M635.5,458.5L648,456.5Q651,456 651.6,459L653,472Q653.2,475 650,475.6L638,477.6" fill="#fff" stroke="#1d1d1b" stroke-width="1.7" /><path d="M640,459V476M644,458.5V476M648,458V475" fill="none" stroke="#b9b9b9" stroke-width="0.7" /><ellipse cx="631.50" cy="458.50" rx="1.8" ry="2.6" fill="#fff" stroke="#1d1d1b" stroke-width="1.1"/><ellipse cx="634.00" cy="473.00" rx="1.8" ry="2.6" fill="#fff" stroke="#1d1d1b" stroke-width="1.1"/><ellipse cx="638.00" cy="482.00" rx="1.6" ry="2.2" fill="#fff" stroke="#1d1d1b" stroke-width="1.1"/><path d="M661,479Q661,476 664,476H670Q673,476 673.4,479L675,494Q675.3,498 671.6,498.4H667Q663.6,498.4 663.2,495Z" fill="#fff" stroke="#b9b9b9" stroke-width="1.1" /><path d="M629.2,398.1L631.8,390.9Q634.6,394.0 635,398.1Z" fill="#fff" stroke="#1d1d1b" stroke-width="1.4" /><ellipse cx="627.60" cy="395.30" rx="1.4" ry="1.9" fill="#fff" stroke="#1d1d1b" stroke-width="1.1"/><path d="M629.2,410.1L631.8,402.9Q634.6,406.0 635,410.1Z" fill="#fff" stroke="#1d1d1b" stroke-width="1.4" /><ellipse cx="627.60" cy="407.30" rx="1.4" ry="1.9" fill="#fff" stroke="#1d1d1b" stroke-width="1.1"/><path d="M629.2,425.1L631.8,417.9Q634.6,421.0 635,425.1Z" fill="#fff" stroke="#1d1d1b" stroke-width="1.4" /><ellipse cx="627.60" cy="422.30" rx="1.4" ry="1.9" fill="#fff" stroke="#1d1d1b" stroke-width="1.1"/><ellipse cx="618.60" cy="383.40" rx="1.4" ry="1.6" fill="#fff" stroke="#1d1d1b" stroke-width="1.0"/><ellipse cx="620.60" cy="387.40" rx="1.4" ry="1.6" fill="#fff" stroke="#1d1d1b" stroke-width="1.0"/><ellipse cx="619.60" cy="435.60" rx="1.4" ry="1.6" fill="#fff" stroke="#1d1d1b" stroke-width="1.0"/><ellipse cx="618.60" cy="439.40" rx="1.4" ry="1.6" fill="#fff" stroke="#1d1d1b" stroke-width="1.0"/><ellipse cx="633.60" cy="491.80" rx="1.4" ry="1.6" fill="#fff" stroke="#1d1d1b" stroke-width="1.0"/><ellipse cx="670.70" cy="283.80" rx="2.0" ry="3.4" fill="#fff" stroke="#1d1d1b" stroke-width="1.3"/><ellipse cx="683.00" cy="277.20" rx="1.7" ry="2.6" fill="#fff" stroke="#1d1d1b" stroke-width="1.3"/><ellipse cx="689.50" cy="276.00" rx="1.8" ry="2.5" fill="#fff" stroke="#1d1d1b" stroke-width="1.3"/><ellipse cx="697.50" cy="276.60" rx="1.8" ry="2.5" fill="#fff" stroke="#1d1d1b" stroke-width="1.3"/><ellipse cx="704.30" cy="281.40" rx="1.5" ry="2.2" fill="#fff" stroke="#1d1d1b" stroke-width="1.3"/><ellipse cx="714.80" cy="286.20" rx="1.4" ry="2.0" fill="#fff" stroke="#1d1d1b" stroke-width="1.3"/><ellipse cx="722.00" cy="292.40" rx="1.4" ry="2.0" fill="#fff" stroke="#1d1d1b" stroke-width="1.3"/><path d="M659,281Q663.5,282.5 664.6,286.6Q668.6,289.6 672.4,287Q676,282.6 680.5,281.6Q686,280.4 691,282Q697,284.4 702,287Q709,290.4 716,293.6Q721,296.4 725,300" fill="none" stroke="#1d1d1b" stroke-width="2.5" /><path d="M659.5,283.5Q664,278.5 671,275.6Q680,272.4 694,272.6Q703,275 709,279.4" fill="none" stroke="#1d1d1b" stroke-width="0.9" /><path d="M665.6,288.4Q667.6,292 670.8,290.4M671.6,291Q674.6,294 677.8,292.4" fill="none" stroke="#1d1d1b" stroke-width="1.7" /><path d="M676.4,288Q680.6,284.6 685,286.2Q687.2,290 682.4,292.2Q678.4,292.4 676.4,288Z" fill="#fff" stroke="#1d1d1b" stroke-width="1.4" /><ellipse cx="681.20" cy="281.20" rx="1.6" ry="2.0" fill="#fff" stroke="#1d1d1b" stroke-width="1.2"/><ellipse cx="692.6" cy="283.6" rx="3.0" ry="1.5" fill="#fff" stroke="#1d1d1b" stroke-width="1.3" transform="rotate(30 692.6 283.6)"/><ellipse cx="698.4" cy="286.2" rx="3.0" ry="1.5" fill="#fff" stroke="#1d1d1b" stroke-width="1.3" transform="rotate(30 698.4 286.2)"/><ellipse cx="704.2" cy="289.2" rx="3.0" ry="1.5" fill="#fff" stroke="#1d1d1b" stroke-width="1.3" transform="rotate(30 704.2 289.2)"/><ellipse cx="710.2" cy="292.2" rx="3.0" ry="1.5" fill="#fff" stroke="#1d1d1b" stroke-width="1.3" transform="rotate(30 710.2 292.2)"/><ellipse cx="716" cy="295.2" rx="3.0" ry="1.5" fill="#fff" stroke="#1d1d1b" stroke-width="1.3" transform="rotate(30 716 295.2)"/><path d="M688.6,286.4l4.2,2.8M694.6,289.2l4.2,2.8M700.6,292.2l4,2.6" fill="none" stroke="#1d1d1b" stroke-width="1.6" /><path d="M655,291L636.5,342" fill="none" stroke="#1d1d1b" stroke-width="2.6" /><path d="M661,306L652.5,319L644,331" fill="none" stroke="#1d1d1b" stroke-width="1.5" /><path d="M664,307L655,321L646,333" fill="none" stroke="#1d1d1b" stroke-width="1.0" /><path d="M650.5,290.5Q647.5,297 650.5,304" fill="none" stroke="#1d1d1b" stroke-width="1.1" /><ellipse cx="662.00" cy="299.50" rx="3.6" ry="5.8" fill="#fff" stroke="#1d1d1b" stroke-width="1.6"/><ellipse cx="667.80" cy="300.50" rx="3.2" ry="5.6" fill="#fff" stroke="#1d1d1b" stroke-width="1.2"/><ellipse cx="670.60" cy="294.50" rx="2.2" ry="3.2" fill="#fff" stroke="#1d1d1b" stroke-width="1.2"/><ellipse cx="644.60" cy="340.80" rx="3.0" ry="4.6" fill="#fff" stroke="#1d1d1b" stroke-width="1.6"/><path d="M641.5,336.5L645,330.5L648.4,337" fill="none" stroke="#1d1d1b" stroke-width="1.0" /><path d="M683.5,296.5L686.5,303M683.5,296.5L695.5,292.5Q699,292 699.6,296" fill="none" stroke="#b9b9b9" stroke-width="1.0" /><ellipse cx="696.40" cy="530.80" rx="2.8" ry="4.8" fill="#fff" stroke="#1d1d1b" stroke-width="1.6"/><ellipse cx="703.80" cy="530.60" rx="1.5" ry="2.2" fill="#fff" stroke="#1d1d1b" stroke-width="1.1"/><ellipse cx="709.80" cy="528.20" rx="1.5" ry="2.2" fill="#fff" stroke="#1d1d1b" stroke-width="1.1"/><ellipse cx="715.60" cy="525.60" rx="1.5" ry="2.2" fill="#fff" stroke="#1d1d1b" stroke-width="1.1"/><ellipse cx="722.60" cy="520.40" rx="1.5" ry="2.2" fill="#fff" stroke="#1d1d1b" stroke-width="1.1"/><path d="M690,527Q700,522 710,521Q722,516 734,508" fill="none" stroke="#1d1d1b" stroke-width="1.6" /><path d="M671.5,514.5L689,535.5" fill="none" stroke="#1d1d1b" stroke-width="2.4" /><path d="M675.5,513L692,532" fill="none" stroke="#1d1d1b" stroke-width="1.1" /><path d="M669.5,510.5Q672,509.5 674,512" fill="none" stroke="#1d1d1b" stroke-width="1.2" /><path d="M651.6,513.5H666Q668.6,516 668.6,520Q668.6,525 665.6,527.4H655Q651.6,524 651.6,513.5Z" fill="#fff" stroke="#1d1d1b" stroke-width="1.5" /><rect x="657.6" y="514.2" width="3.4" height="12.6" fill="#1d1d1b"/><ellipse cx="664.40" cy="520.40" rx="3.0" ry="6.6" fill="#fff" stroke="#1d1d1b" stroke-width="1.2"/><path d="M691.6,500.6L702.6,504.4V509.6L691.6,505.8Z" fill="#1d1d1b" stroke="#1d1d1b" stroke-width="0.8" /><rect x="696" y="503.6" width="1.6" height="2.2" fill="#aaa" transform="rotate(18 696 503.6)"/><path d="M758.6,367.5l2.2,0.6v5l-2.2,-0.6zM759.2,375.5l2.2,0.6v3.6l-2.2,-0.6zM759.8,382.5l2.2,0.6v5.4l-2.2,-0.6z" fill="#1d1d1b"/></g>
<g id="leaders" fill="none"><path d="M22,217.8H250.3L355,370.6" stroke="#222" stroke-width="1.35"/><path d="M997,217.4H894.6L815,276" stroke="#8e8e8e" stroke-width="1.25"/><path d="M12,655.3H90L180,540" stroke="#8e8e8e" stroke-width="1.25"/><path d="M185,655.3H342L458,510" stroke="#8e8e8e" stroke-width="1.25"/><path d="M415,655.3H575L662.5,532.5" stroke="#8e8e8e" stroke-width="1.25"/><path d="M657,655.3H857.5L941,531" stroke="#8e8e8e" stroke-width="1.25"/></g>
</svg>
</body></html>
